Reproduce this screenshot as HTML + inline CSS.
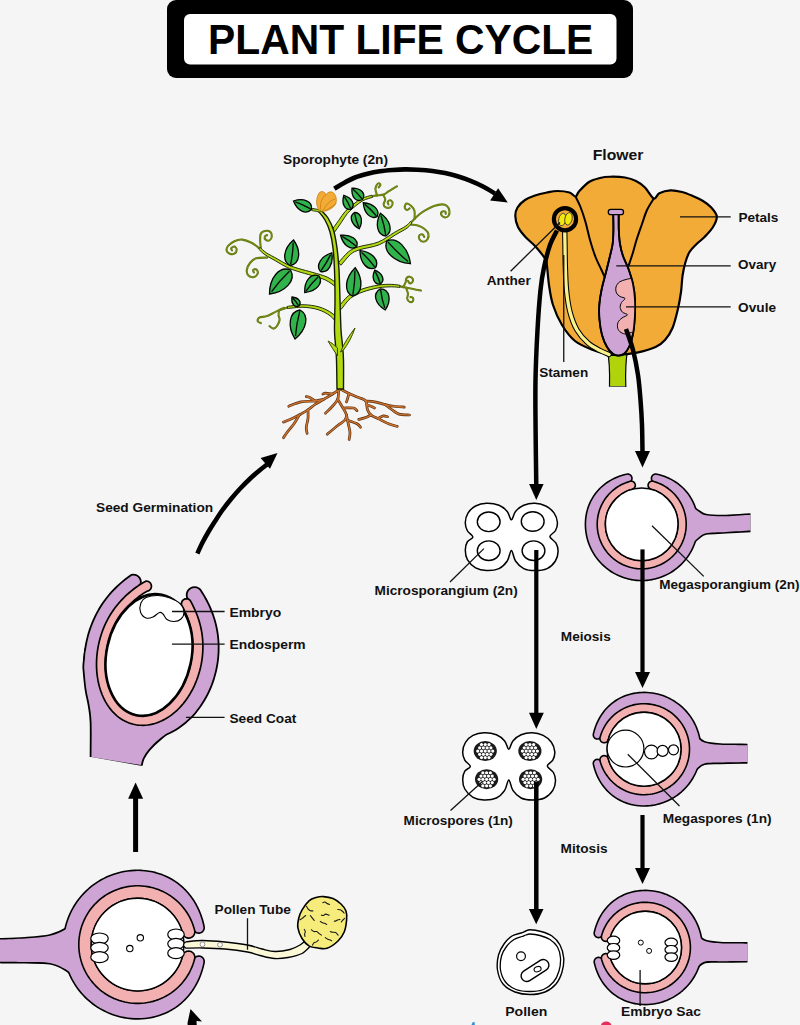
<!DOCTYPE html>
<html><head><meta charset="utf-8"><title>Plant Life Cycle</title>
<style>html,body{margin:0;padding:0;background:#f5f5f5;}svg{display:block;font-family:"Liberation Sans",sans-serif;}</style>
</head><body>
<svg width="800" height="1025" viewBox="0 0 800 1025">
<rect width="800" height="1025" fill="#f5f5f5"/>
<rect x="167" y="0" width="466" height="78" rx="9" fill="#000"/>
<rect x="184" y="14" width="432.5" height="50.5" rx="6" fill="#fff"/>
<text x="208.12" y="54" font-size="42.5" font-weight="bold" fill="#000" textLength="385.21" lengthAdjust="spacingAndGlyphs" font-family="Liberation Sans, sans-serif">PLANT LIFE CYCLE</text>
<path d="M339.5,389.6 C338.33,390.33 335.12,392.39 332.5,394 C329.88,395.61 326.67,397.5 323.75,399.25 C320.83,401 317.62,402.75 315,404.5 C312.38,406.25 310.62,408 308,409.75 C305.38,411.5 301.88,413.54 299.25,415 C296.62,416.46 294.88,417.33 292.25,418.5 C289.62,419.67 284.96,421.42 283.5,422" fill="none" stroke="#5a2e0e" stroke-width="2.7" stroke-linecap="round" stroke-linejoin="round"/><path d="M323.75,399.25 C322.29,399.54 318.79,400.56 315,401 C311.21,401.44 305.38,401.02 301,401.9 C296.62,402.77 290.79,405.52 288.75,406.25" fill="none" stroke="#5a2e0e" stroke-width="2.7" stroke-linecap="round" stroke-linejoin="round"/><path d="M315,401 C314.12,400.42 311.21,398.23 309.75,397.5 C308.29,396.77 306.83,396.75 306.25,396.6" fill="none" stroke="#5a2e0e" stroke-width="2.7" stroke-linecap="round" stroke-linejoin="round"/><path d="M299.25,415 C298.38,416.46 296.04,420.83 294,423.75 C291.96,426.67 288.75,430.17 287,432.5 C285.25,434.83 284.08,436.88 283.5,437.75" fill="none" stroke="#5a2e0e" stroke-width="2.7" stroke-linecap="round" stroke-linejoin="round"/><path d="M308,409.75 C308,411.21 308.29,415.58 308,418.5 C307.71,421.42 306.4,424.77 306.25,427.25 C306.1,429.73 306.96,432.38 307.1,433.4" fill="none" stroke="#5a2e0e" stroke-width="2.7" stroke-linecap="round" stroke-linejoin="round"/><path d="M332.5,394 C331.33,393.85 327.1,393.1 325.5,393.1 C323.9,393.1 323.33,393.85 322.9,394" fill="none" stroke="#5a2e0e" stroke-width="2.7" stroke-linecap="round" stroke-linejoin="round"/><path d="M338.5,390.5 C338.38,391.96 338.75,396.62 337.75,399.25 C336.75,401.88 334.54,403.92 332.5,406.25 C330.46,408.58 326.67,412.08 325.5,413.25" fill="none" stroke="#5a2e0e" stroke-width="2.7" stroke-linecap="round" stroke-linejoin="round"/><path d="M337.75,399.25 C338.62,400.71 341.54,405.38 343,408 C344.46,410.62 346.21,412.96 346.5,415 C346.79,417.04 346.21,418.5 344.75,420.25 C343.29,422 340.67,423.17 337.75,425.5 C334.83,427.83 329,432.79 327.25,434.25" fill="none" stroke="#5a2e0e" stroke-width="2.7" stroke-linecap="round" stroke-linejoin="round"/><path d="M346.5,415 C346.79,416.46 347.67,420.83 348.25,423.75 C348.83,426.67 349.86,429.88 350,432.5 C350.14,435.12 349.25,438.33 349.1,439.5" fill="none" stroke="#5a2e0e" stroke-width="2.7" stroke-linecap="round" stroke-linejoin="round"/><path d="M344,408 C345.58,408 351.33,407.57 353.5,408 C355.67,408.43 356.42,410.17 357,410.6" fill="none" stroke="#5a2e0e" stroke-width="2.7" stroke-linecap="round" stroke-linejoin="round"/><path d="M347,420 C348.67,420.62 354.75,422.54 357,423.75 C359.25,424.96 359.92,426.67 360.5,427.25" fill="none" stroke="#5a2e0e" stroke-width="2.7" stroke-linecap="round" stroke-linejoin="round"/><path d="M341.25,389.6 C342.71,390.33 347.08,392.68 350,394 C352.92,395.32 356.12,396.33 358.75,397.5 C361.38,398.67 364.29,398.96 365.75,401 C367.21,403.04 366.62,407.42 367.5,409.75 C368.38,412.08 369.25,413.54 371,415 C372.75,416.46 375.08,417.04 378,418.5 C380.92,419.96 385.29,422.43 388.5,423.75 C391.71,425.07 395.79,425.96 397.25,426.4" fill="none" stroke="#5a2e0e" stroke-width="2.7" stroke-linecap="round" stroke-linejoin="round"/><path d="M365.75,401 C367.21,401.15 371.29,401.32 374.5,401.9 C377.71,402.48 381.79,403.77 385,404.5 C388.21,405.23 390.54,405.82 393.75,406.25 C396.96,406.68 402.5,406.96 404.25,407.1" fill="none" stroke="#5a2e0e" stroke-width="2.7" stroke-linecap="round" stroke-linejoin="round"/><path d="M385,404.5 C386.17,405.38 389.67,408.15 392,409.75 C394.33,411.35 396.08,413.23 399,414.1 C401.92,414.98 407.75,414.85 409.5,415" fill="none" stroke="#5a2e0e" stroke-width="2.7" stroke-linecap="round" stroke-linejoin="round"/><path d="M371,415 C370.12,415.43 367.79,416.87 365.75,417.6 C363.71,418.33 359.92,419.1 358.75,419.4" fill="none" stroke="#5a2e0e" stroke-width="2.7" stroke-linecap="round" stroke-linejoin="round"/><path d="M378,418.5 C378.88,418.07 381.65,416.19 383.25,415.9 C384.85,415.61 386.88,416.61 387.6,416.75" fill="none" stroke="#5a2e0e" stroke-width="2.7" stroke-linecap="round" stroke-linejoin="round"/><path d="M349,393.5 C348.73,394.46 347.82,397.85 347.4,399.25 C346.98,400.65 346.65,401.46 346.5,401.9" fill="none" stroke="#5a2e0e" stroke-width="2.7" stroke-linecap="round" stroke-linejoin="round"/><path d="M367,405 C367.67,405.21 369.75,405.75 371,406.25 C372.25,406.75 373.92,407.71 374.5,408" fill="none" stroke="#5a2e0e" stroke-width="2.7" stroke-linecap="round" stroke-linejoin="round"/><path d="M339.5,389.6 C338.33,390.33 335.12,392.39 332.5,394 C329.88,395.61 326.67,397.5 323.75,399.25 C320.83,401 317.62,402.75 315,404.5 C312.38,406.25 310.62,408 308,409.75 C305.38,411.5 301.88,413.54 299.25,415 C296.62,416.46 294.88,417.33 292.25,418.5 C289.62,419.67 284.96,421.42 283.5,422" fill="none" stroke="#cc7430" stroke-width="1.4" stroke-linecap="round" stroke-linejoin="round"/><path d="M323.75,399.25 C322.29,399.54 318.79,400.56 315,401 C311.21,401.44 305.38,401.02 301,401.9 C296.62,402.77 290.79,405.52 288.75,406.25" fill="none" stroke="#cc7430" stroke-width="1.4" stroke-linecap="round" stroke-linejoin="round"/><path d="M315,401 C314.12,400.42 311.21,398.23 309.75,397.5 C308.29,396.77 306.83,396.75 306.25,396.6" fill="none" stroke="#cc7430" stroke-width="1.4" stroke-linecap="round" stroke-linejoin="round"/><path d="M299.25,415 C298.38,416.46 296.04,420.83 294,423.75 C291.96,426.67 288.75,430.17 287,432.5 C285.25,434.83 284.08,436.88 283.5,437.75" fill="none" stroke="#cc7430" stroke-width="1.4" stroke-linecap="round" stroke-linejoin="round"/><path d="M308,409.75 C308,411.21 308.29,415.58 308,418.5 C307.71,421.42 306.4,424.77 306.25,427.25 C306.1,429.73 306.96,432.38 307.1,433.4" fill="none" stroke="#cc7430" stroke-width="1.4" stroke-linecap="round" stroke-linejoin="round"/><path d="M332.5,394 C331.33,393.85 327.1,393.1 325.5,393.1 C323.9,393.1 323.33,393.85 322.9,394" fill="none" stroke="#cc7430" stroke-width="1.4" stroke-linecap="round" stroke-linejoin="round"/><path d="M338.5,390.5 C338.38,391.96 338.75,396.62 337.75,399.25 C336.75,401.88 334.54,403.92 332.5,406.25 C330.46,408.58 326.67,412.08 325.5,413.25" fill="none" stroke="#cc7430" stroke-width="1.4" stroke-linecap="round" stroke-linejoin="round"/><path d="M337.75,399.25 C338.62,400.71 341.54,405.38 343,408 C344.46,410.62 346.21,412.96 346.5,415 C346.79,417.04 346.21,418.5 344.75,420.25 C343.29,422 340.67,423.17 337.75,425.5 C334.83,427.83 329,432.79 327.25,434.25" fill="none" stroke="#cc7430" stroke-width="1.4" stroke-linecap="round" stroke-linejoin="round"/><path d="M346.5,415 C346.79,416.46 347.67,420.83 348.25,423.75 C348.83,426.67 349.86,429.88 350,432.5 C350.14,435.12 349.25,438.33 349.1,439.5" fill="none" stroke="#cc7430" stroke-width="1.4" stroke-linecap="round" stroke-linejoin="round"/><path d="M344,408 C345.58,408 351.33,407.57 353.5,408 C355.67,408.43 356.42,410.17 357,410.6" fill="none" stroke="#cc7430" stroke-width="1.4" stroke-linecap="round" stroke-linejoin="round"/><path d="M347,420 C348.67,420.62 354.75,422.54 357,423.75 C359.25,424.96 359.92,426.67 360.5,427.25" fill="none" stroke="#cc7430" stroke-width="1.4" stroke-linecap="round" stroke-linejoin="round"/><path d="M341.25,389.6 C342.71,390.33 347.08,392.68 350,394 C352.92,395.32 356.12,396.33 358.75,397.5 C361.38,398.67 364.29,398.96 365.75,401 C367.21,403.04 366.62,407.42 367.5,409.75 C368.38,412.08 369.25,413.54 371,415 C372.75,416.46 375.08,417.04 378,418.5 C380.92,419.96 385.29,422.43 388.5,423.75 C391.71,425.07 395.79,425.96 397.25,426.4" fill="none" stroke="#cc7430" stroke-width="1.4" stroke-linecap="round" stroke-linejoin="round"/><path d="M365.75,401 C367.21,401.15 371.29,401.32 374.5,401.9 C377.71,402.48 381.79,403.77 385,404.5 C388.21,405.23 390.54,405.82 393.75,406.25 C396.96,406.68 402.5,406.96 404.25,407.1" fill="none" stroke="#cc7430" stroke-width="1.4" stroke-linecap="round" stroke-linejoin="round"/><path d="M385,404.5 C386.17,405.38 389.67,408.15 392,409.75 C394.33,411.35 396.08,413.23 399,414.1 C401.92,414.98 407.75,414.85 409.5,415" fill="none" stroke="#cc7430" stroke-width="1.4" stroke-linecap="round" stroke-linejoin="round"/><path d="M371,415 C370.12,415.43 367.79,416.87 365.75,417.6 C363.71,418.33 359.92,419.1 358.75,419.4" fill="none" stroke="#cc7430" stroke-width="1.4" stroke-linecap="round" stroke-linejoin="round"/><path d="M378,418.5 C378.88,418.07 381.65,416.19 383.25,415.9 C384.85,415.61 386.88,416.61 387.6,416.75" fill="none" stroke="#cc7430" stroke-width="1.4" stroke-linecap="round" stroke-linejoin="round"/><path d="M349,393.5 C348.73,394.46 347.82,397.85 347.4,399.25 C346.98,400.65 346.65,401.46 346.5,401.9" fill="none" stroke="#cc7430" stroke-width="1.4" stroke-linecap="round" stroke-linejoin="round"/><path d="M367,405 C367.67,405.21 369.75,405.75 371,406.25 C372.25,406.75 373.92,407.71 374.5,408" fill="none" stroke="#cc7430" stroke-width="1.4" stroke-linecap="round" stroke-linejoin="round"/><path d="M259.3,248.2 C258,247.28 254.35,244.13 251.5,242.7 C248.65,241.27 245.05,239.85 242.2,239.6 C239.35,239.35 236.75,240.15 234.4,241.2 C232.05,242.25 229.4,244.35 228.1,245.9 C226.8,247.45 226.33,249.2 226.6,250.5 C226.87,251.8 228.4,253.17 229.7,253.7 C231,254.23 233.23,254.35 234.4,253.7 C235.57,253.05 236.7,250.98 236.7,249.8 C236.7,248.62 235.32,246.87 234.4,246.6 C233.48,246.33 231.6,247.55 231.2,248.2 C230.8,248.85 231.87,250.12 232,250.5" fill="none" stroke="#5f760c" stroke-width="2.1" stroke-linecap="round"/><path d="M259.3,248.2 C258,247.28 254.35,244.13 251.5,242.7 C248.65,241.27 245.05,239.85 242.2,239.6 C239.35,239.35 236.75,240.15 234.4,241.2 C232.05,242.25 229.4,244.35 228.1,245.9 C226.8,247.45 226.33,249.2 226.6,250.5 C226.87,251.8 228.4,253.17 229.7,253.7 C231,254.23 233.23,254.35 234.4,253.7 C235.57,253.05 236.7,250.98 236.7,249.8 C236.7,248.62 235.32,246.87 234.4,246.6 C233.48,246.33 231.6,247.55 231.2,248.2 C230.8,248.85 231.87,250.12 232,250.5" fill="none" stroke="#90a922" stroke-width="0.5" stroke-linecap="round"/><path d="M260.9,249 C260.77,247.43 260.1,242.2 260.1,239.6 C260.1,237 260.12,234.83 260.9,233.4 C261.68,231.97 263.23,231.27 264.8,231 C266.37,230.73 269.13,230.88 270.3,231.8 C271.47,232.72 271.93,235.07 271.8,236.5 C271.67,237.93 270.53,239.88 269.5,240.4 C268.47,240.92 266.38,240.25 265.6,239.6 C264.82,238.95 264.55,237.27 264.8,236.5 C265.05,235.73 266.72,235.25 267.1,235" fill="none" stroke="#5f760c" stroke-width="2.1" stroke-linecap="round"/><path d="M260.9,249 C260.77,247.43 260.1,242.2 260.1,239.6 C260.1,237 260.12,234.83 260.9,233.4 C261.68,231.97 263.23,231.27 264.8,231 C266.37,230.73 269.13,230.88 270.3,231.8 C271.47,232.72 271.93,235.07 271.8,236.5 C271.67,237.93 270.53,239.88 269.5,240.4 C268.47,240.92 266.38,240.25 265.6,239.6 C264.82,238.95 264.55,237.27 264.8,236.5 C265.05,235.73 266.72,235.25 267.1,235" fill="none" stroke="#90a922" stroke-width="0.5" stroke-linecap="round"/><path d="M267.1,257.6 C265.28,257.72 259.05,257.4 256.2,258.3 C253.35,259.2 251.57,261.05 250,263 C248.43,264.95 247.07,267.92 246.8,270 C246.53,272.08 247.22,274.32 248.4,275.5 C249.58,276.68 252.33,277.48 253.9,277.1 C255.47,276.72 257.42,274.5 257.8,273.2 C258.18,271.9 256.98,269.83 256.2,269.3 C255.42,268.77 253.48,269.48 253.1,270 C252.72,270.52 253.77,272 253.9,272.4" fill="none" stroke="#5f760c" stroke-width="2.1" stroke-linecap="round"/><path d="M267.1,257.6 C265.28,257.72 259.05,257.4 256.2,258.3 C253.35,259.2 251.57,261.05 250,263 C248.43,264.95 247.07,267.92 246.8,270 C246.53,272.08 247.22,274.32 248.4,275.5 C249.58,276.68 252.33,277.48 253.9,277.1 C255.47,276.72 257.42,274.5 257.8,273.2 C258.18,271.9 256.98,269.83 256.2,269.3 C255.42,268.77 253.48,269.48 253.1,270 C252.72,270.52 253.77,272 253.9,272.4" fill="none" stroke="#90a922" stroke-width="0.5" stroke-linecap="round"/><path d="M287.4,307.5 C285.58,308.15 279.88,309.97 276.5,311.4 C273.12,312.83 269.97,315.07 267.1,316.1 C264.23,317.13 260.85,316.7 259.3,317.6 C257.75,318.5 257.53,320.58 257.8,321.5 C258.07,322.42 260.38,322.83 260.9,323.1" fill="none" stroke="#5f760c" stroke-width="2.1" stroke-linecap="round"/><path d="M287.4,307.5 C285.58,308.15 279.88,309.97 276.5,311.4 C273.12,312.83 269.97,315.07 267.1,316.1 C264.23,317.13 260.85,316.7 259.3,317.6 C257.75,318.5 257.53,320.58 257.8,321.5 C258.07,322.42 260.38,322.83 260.9,323.1" fill="none" stroke="#90a922" stroke-width="0.5" stroke-linecap="round"/><path d="M284,307.8 C283.25,308.17 280.42,308.8 279.5,310 C278.58,311.2 278.48,313.33 278.5,315 C278.52,316.67 279.85,318.17 279.6,320 C279.35,321.83 278.03,324.57 277,326 C275.97,327.43 274.65,328.57 273.4,328.6 C272.15,328.63 270.15,326.6 269.5,326.2" fill="none" stroke="#5f760c" stroke-width="2.1" stroke-linecap="round"/><path d="M284,307.8 C283.25,308.17 280.42,308.8 279.5,310 C278.58,311.2 278.48,313.33 278.5,315 C278.52,316.67 279.85,318.17 279.6,320 C279.35,321.83 278.03,324.57 277,326 C275.97,327.43 274.65,328.57 273.4,328.6 C272.15,328.63 270.15,326.6 269.5,326.2" fill="none" stroke="#90a922" stroke-width="0.5" stroke-linecap="round"/><path d="M372.25,196.25 C373.06,196.11 375.21,195.68 377.1,195.4 C378.99,195.12 381.7,195.27 383.6,194.6 C385.5,193.93 386.6,192.62 388.5,191.4 C390.4,190.18 393.58,188.15 395,187.3 C396.42,186.45 396.67,186.47 397,186.3" fill="none" stroke="#5f760c" stroke-width="2.1" stroke-linecap="round"/><path d="M372.25,196.25 C373.06,196.11 375.21,195.68 377.1,195.4 C378.99,195.12 381.7,195.27 383.6,194.6 C385.5,193.93 386.6,192.62 388.5,191.4 C390.4,190.18 393.58,188.15 395,187.3 C396.42,186.45 396.67,186.47 397,186.3" fill="none" stroke="#90a922" stroke-width="0.5" stroke-linecap="round"/><path d="M377.1,195.4 C376.83,194.46 375.63,191.37 375.5,189.75 C375.37,188.13 375.76,186.78 376.3,185.7 C376.84,184.62 378.07,183.38 378.75,183.25 C379.43,183.12 380.4,184.22 380.4,184.9 C380.4,185.58 379.02,186.9 378.75,187.3" fill="none" stroke="#5f760c" stroke-width="2.1" stroke-linecap="round"/><path d="M377.1,195.4 C376.83,194.46 375.63,191.37 375.5,189.75 C375.37,188.13 375.76,186.78 376.3,185.7 C376.84,184.62 378.07,183.38 378.75,183.25 C379.43,183.12 380.4,184.22 380.4,184.9 C380.4,185.58 379.02,186.9 378.75,187.3" fill="none" stroke="#90a922" stroke-width="0.5" stroke-linecap="round"/><path d="M383.6,195.4 C383.88,196.08 385.25,198 385.25,199.5 C385.25,201 383.48,203.05 383.6,204.4 C383.73,205.75 384.77,207.2 386,207.6 C387.23,208 389.9,207.61 391,206.8 C392.1,205.99 392.75,203.83 392.6,202.75 C392.45,201.67 390.92,200.43 390.1,200.3 C389.28,200.18 387.97,201.32 387.7,202 C387.43,202.68 388.37,204 388.5,204.4" fill="none" stroke="#5f760c" stroke-width="2.1" stroke-linecap="round"/><path d="M383.6,195.4 C383.88,196.08 385.25,198 385.25,199.5 C385.25,201 383.48,203.05 383.6,204.4 C383.73,205.75 384.77,207.2 386,207.6 C387.23,208 389.9,207.61 391,206.8 C392.1,205.99 392.75,203.83 392.6,202.75 C392.45,201.67 390.92,200.43 390.1,200.3 C389.28,200.18 387.97,201.32 387.7,202 C387.43,202.68 388.37,204 388.5,204.4" fill="none" stroke="#90a922" stroke-width="0.5" stroke-linecap="round"/><path d="M411.25,222.25 C412.33,221.17 415.58,217.64 417.75,215.75 C419.92,213.86 421.54,212.53 424.25,210.9 C426.96,209.28 431.02,207.08 434,206 C436.98,204.92 439.93,204.4 442.1,204.4 C444.27,204.4 445.78,204.92 447,206 C448.22,207.08 449.13,209.28 449.4,210.9 C449.67,212.53 449.4,214.67 448.6,215.75 C447.8,216.83 445.82,217.54 444.6,217.4 C443.38,217.26 441.72,215.85 441.3,214.9 C440.88,213.95 441.42,212.23 442.1,211.7 C442.78,211.17 444.8,211.35 445.4,211.7 C446,212.05 445.65,213.45 445.7,213.8" fill="none" stroke="#5f760c" stroke-width="2.1" stroke-linecap="round"/><path d="M411.25,222.25 C412.33,221.17 415.58,217.64 417.75,215.75 C419.92,213.86 421.54,212.53 424.25,210.9 C426.96,209.28 431.02,207.08 434,206 C436.98,204.92 439.93,204.4 442.1,204.4 C444.27,204.4 445.78,204.92 447,206 C448.22,207.08 449.13,209.28 449.4,210.9 C449.67,212.53 449.4,214.67 448.6,215.75 C447.8,216.83 445.82,217.54 444.6,217.4 C443.38,217.26 441.72,215.85 441.3,214.9 C440.88,213.95 441.42,212.23 442.1,211.7 C442.78,211.17 444.8,211.35 445.4,211.7 C446,212.05 445.65,213.45 445.7,213.8" fill="none" stroke="#90a922" stroke-width="0.5" stroke-linecap="round"/><path d="M414.5,219 C414.5,217.65 415.04,213.07 414.5,210.9 C413.96,208.73 412.6,207.22 411.25,206 C409.9,204.78 407.48,203.33 406.4,203.6 C405.32,203.87 404.62,206.53 404.75,207.6 C404.88,208.67 406.39,209.87 407.2,210 C408.01,210.13 409.2,208.67 409.6,208.4" fill="none" stroke="#5f760c" stroke-width="2.1" stroke-linecap="round"/><path d="M414.5,219 C414.5,217.65 415.04,213.07 414.5,210.9 C413.96,208.73 412.6,207.22 411.25,206 C409.9,204.78 407.48,203.33 406.4,203.6 C405.32,203.87 404.62,206.53 404.75,207.6 C404.88,208.67 406.39,209.87 407.2,210 C408.01,210.13 409.2,208.67 409.6,208.4" fill="none" stroke="#90a922" stroke-width="0.5" stroke-linecap="round"/><path d="M411.25,224.7 C412.33,224.83 415.58,224.82 417.75,225.5 C419.92,226.18 422.49,227.4 424.25,228.75 C426.01,230.1 427.76,231.84 428.3,233.6 C428.84,235.36 428.32,237.94 427.5,239.3 C426.68,240.66 424.75,241.75 423.4,241.75 C422.05,241.75 420.07,240.38 419.4,239.3 C418.73,238.22 418.87,236.07 419.4,235.25 C419.93,234.43 421.79,234.12 422.6,234.4 C423.41,234.68 423.98,236.48 424.25,236.9" fill="none" stroke="#5f760c" stroke-width="2.1" stroke-linecap="round"/><path d="M411.25,224.7 C412.33,224.83 415.58,224.82 417.75,225.5 C419.92,226.18 422.49,227.4 424.25,228.75 C426.01,230.1 427.76,231.84 428.3,233.6 C428.84,235.36 428.32,237.94 427.5,239.3 C426.68,240.66 424.75,241.75 423.4,241.75 C422.05,241.75 420.07,240.38 419.4,239.3 C418.73,238.22 418.87,236.07 419.4,235.25 C419.93,234.43 421.79,234.12 422.6,234.4 C423.41,234.68 423.98,236.48 424.25,236.9" fill="none" stroke="#90a922" stroke-width="0.5" stroke-linecap="round"/><path d="M399.9,286.4 C401.25,286.67 405.3,287.45 408,288 C410.7,288.55 413.93,289.28 416.1,289.7 C418.27,290.12 420.18,290.37 421,290.5" fill="none" stroke="#5f760c" stroke-width="2.1" stroke-linecap="round"/><path d="M399.9,286.4 C401.25,286.67 405.3,287.45 408,288 C410.7,288.55 413.93,289.28 416.1,289.7 C418.27,290.12 420.18,290.37 421,290.5" fill="none" stroke="#90a922" stroke-width="0.5" stroke-linecap="round"/><path d="M403.1,287.25 C403.52,286.44 405.05,283.89 405.6,282.4 C406.15,280.91 405.73,279.25 406.4,278.3 C407.07,277.35 408.52,276.57 409.6,276.7 C410.68,276.83 412.48,278.15 412.9,279.1 C413.32,280.05 412.65,281.72 412.1,282.4 C411.55,283.08 410.28,283.47 409.6,283.2 C408.92,282.93 408.27,281.16 408,280.75" fill="none" stroke="#5f760c" stroke-width="2.1" stroke-linecap="round"/><path d="M403.1,287.25 C403.52,286.44 405.05,283.89 405.6,282.4 C406.15,280.91 405.73,279.25 406.4,278.3 C407.07,277.35 408.52,276.57 409.6,276.7 C410.68,276.83 412.48,278.15 412.9,279.1 C413.32,280.05 412.65,281.72 412.1,282.4 C411.55,283.08 410.28,283.47 409.6,283.2 C408.92,282.93 408.27,281.16 408,280.75" fill="none" stroke="#90a922" stroke-width="0.5" stroke-linecap="round"/><path d="M406.4,288.9 C406.67,289.71 407.87,292.13 408,293.75 C408.13,295.37 406.93,297.24 407.2,298.6 C407.47,299.96 408.65,301.48 409.6,301.9 C410.55,302.32 412.35,301.78 412.9,301.1 C413.45,300.42 413.32,298.48 412.9,297.8 C412.48,297.12 410.82,297.13 410.4,297" fill="none" stroke="#5f760c" stroke-width="2.1" stroke-linecap="round"/><path d="M406.4,288.9 C406.67,289.71 407.87,292.13 408,293.75 C408.13,295.37 406.93,297.24 407.2,298.6 C407.47,299.96 408.65,301.48 409.6,301.9 C410.55,302.32 412.35,301.78 412.9,301.1 C413.45,300.42 413.32,298.48 412.9,297.8 C412.48,297.12 410.82,297.13 410.4,297" fill="none" stroke="#90a922" stroke-width="0.5" stroke-linecap="round"/><path d="M337.98,283.99 C336.17,282.84 331.31,278.98 327.12,277.06 C322.93,275.14 317.6,273.89 312.87,272.47 C308.14,271.06 302.9,269.84 298.75,268.57 C294.61,267.3 291.59,266.46 287.99,264.83 C284.39,263.2 280.76,260.79 277.14,258.77 C273.52,256.75 269.13,254.61 266.27,252.71 C263.42,250.81 261.07,248.26 260.02,247.37 L258.58,249.03 C259.63,249.97 262.04,252.69 264.93,254.69 C267.81,256.69 272.21,258.92 275.86,261.03 C279.5,263.14 283.15,265.64 286.81,267.37 C290.48,269.1 293.66,270.07 297.85,271.43 C302.03,272.79 307.29,274.08 311.93,275.53 C316.57,276.98 321.67,278.23 325.68,280.14 C329.69,282.05 334.3,285.86 336.02,287.01Z" fill="#b2da12" stroke="#26300a" stroke-width="1" stroke-linejoin="round"/><path d="M340.32,321.77 C338.94,320.34 335.6,315.66 332.05,313.18 C328.5,310.7 323.86,308.32 319.02,306.91 C314.18,305.5 308.32,304.81 303.03,304.73 C297.75,304.64 289.92,306.13 287.29,306.41 L287.51,308.59 C290.08,308.37 297.85,307.09 302.97,307.27 C308.08,307.46 313.65,308.26 318.18,309.69 C322.71,311.11 326.9,313.4 330.15,315.82 C333.4,318.24 336.43,322.82 337.68,324.23Z" fill="#b2da12" stroke="#26300a" stroke-width="1" stroke-linejoin="round"/><path d="M333.96,233.05 C335.2,231.28 339.12,225.71 341.36,222.46 C343.59,219.2 345.14,216.15 347.39,213.5 C349.64,210.85 352.25,208.73 354.86,206.58 C357.47,204.43 360.1,202.15 363.06,200.61 C366.02,199.06 371.01,197.85 372.6,197.29 L371.9,195.21 C370.24,195.74 365.07,196.86 361.94,198.39 C358.81,199.93 355.94,202.24 353.14,204.42 C350.33,206.61 347.52,208.81 345.11,211.5 C342.69,214.19 340.99,217.3 338.64,220.54 C336.3,223.79 332.3,229.22 331.04,230.95Z" fill="#b2da12" stroke="#26300a" stroke-width="1" stroke-linejoin="round"/><path d="M341.09,265.2 C342.67,263.4 347.45,256.99 350.56,254.41 C353.67,251.83 354.95,251.35 359.74,249.74 C364.53,248.13 373.31,247.24 379.3,244.74 C385.29,242.24 391.04,237.52 395.68,234.75 C400.31,231.97 404.37,230.05 407.1,228.1 C409.82,226.14 411.21,223.87 412.03,223.03 L410.47,221.47 C409.68,222.24 408.39,224.27 405.7,226.1 C403.01,227.93 398.91,229.79 394.32,232.45 C389.74,235.11 384.13,239.67 378.2,242.06 C372.27,244.44 363.72,245.14 358.76,246.76 C353.8,248.38 351.83,249.12 348.44,251.79 C345.05,254.46 340.08,260.97 338.41,262.8Z" fill="#b2da12" stroke="#26300a" stroke-width="1" stroke-linejoin="round"/><path d="M341.36,309.18 C342.89,307.37 346.91,301.18 350.52,298.31 C354.13,295.44 358.27,293.69 363.02,291.93 C367.76,290.17 374.19,288.61 378.98,287.76 C383.77,286.91 388.28,286.88 391.75,286.84 C395.22,286.8 398.45,287.39 399.79,287.49 L400.01,285.31 C398.63,285.15 395.33,284.4 391.75,284.36 C388.17,284.32 383.48,284.25 378.52,285.04 C373.56,285.82 366.99,287.3 361.98,289.07 C356.98,290.85 352.37,292.73 348.48,295.69 C344.59,298.65 340.28,304.97 338.64,306.82Z" fill="#b2da12" stroke="#26300a" stroke-width="1" stroke-linejoin="round"/><path d="M311.81,210.58 C312.47,210.7 314.54,211.03 315.78,211.28 C317.03,211.53 318.68,211.94 319.25,212.07 L319.75,209.93 C319.16,209.79 317.47,209.37 316.22,209.12 C314.96,208.87 312.86,208.53 312.19,208.42Z" fill="#b2da12" stroke="#26300a" stroke-width="1" stroke-linejoin="round"/><path d="M337,389 C336.92,384.17 336.75,367.33 336.5,360 C336.25,352.67 335.83,350 335.5,345 C335.17,340 334.58,337.5 334.5,330 C334.42,322.5 335,310 335,300 C335,290 334.83,278.67 334.5,270 C334.17,261.33 333.75,254.33 333,248 C332.25,241.67 331.33,236.67 330,232 C328.67,227.33 326.83,223.33 325,220 C323.17,216.67 320,213.33 319,212 L321,210 C322.17,211.33 325.92,214.67 328,218 C330.08,221.33 332,225 333.5,230 C335,235 336.08,241.33 337,248 C337.92,254.67 338.5,261.33 339,270 C339.5,278.67 339.67,290 340,300 C340.33,310 340.58,322.5 341,330 C341.42,337.5 342.08,340 342.5,345 C342.92,350 343.33,352.67 343.5,360 C343.67,367.33 343.5,384.17 343.5,389Z" fill="#b2da12" stroke="#151a04" stroke-width="1.4"/><path d="M340.5,352 C344,343 349,336 355,328 C352,337 348,344 343.5,350Z" fill="#b2da12" stroke="#3a4a08" stroke-width="1"/><path d="M337.5,356 C334,351 331,346 328,341 C332,343 335,345.5 337.5,348Z" fill="#b2da12" stroke="#3a4a08" stroke-width="1"/><path d="M311.5,209.25 C312.55,201.26 303.4,197.47 293.5,201 C297.28,210.8 306.13,215.26 311.5,209.25 Z" fill="#30b34b" stroke="#000" stroke-width="1.3"/><path d="M310.6,208.84 Q302.87,204.33 295.3,201.82" fill="none" stroke="#0a0a0a" stroke-width="1.35"/><path d="M290.5,265.5 C300.25,263.54 301.3,250.74 293.5,240 C283.42,248.64 281.47,261.34 290.5,265.5 Z" fill="#30b34b" stroke="#000" stroke-width="1.3"/><path d="M290.65,264.23 Q293.07,252.88 293.2,242.55" fill="none" stroke="#0a0a0a" stroke-width="1.35"/><path d="M290.5,270 C279.55,265.5 269.45,277.86 269.5,294 C285.51,291.9 296.41,280.26 290.5,270 Z" fill="#30b34b" stroke="#000" stroke-width="1.3"/><path d="M289.45,271.2 Q279.04,281.16 271.6,291.6" fill="none" stroke="#0a0a0a" stroke-width="1.35"/><path d="M319,276 C310.93,272.49 304.11,281 304.75,292.5 C316.22,291.46 323.65,283.47 319,276 Z" fill="#30b34b" stroke="#000" stroke-width="1.3"/><path d="M318.29,276.82 Q311.15,283.62 306.18,290.85" fill="none" stroke="#0a0a0a" stroke-width="1.35"/><path d="M320.5,271.5 C328.45,273.21 333.76,263.65 331.75,252.75 C321.19,256.1 315.25,265.29 320.5,271.5 Z" fill="#30b34b" stroke="#000" stroke-width="1.3"/><path d="M321.06,270.56 Q326.88,262.58 330.62,254.62" fill="none" stroke="#0a0a0a" stroke-width="1.35"/><path d="M362.5,199.5 C366.39,193.39 360.89,187.92 352,188.1 C351.09,196.95 356.09,202.87 362.5,199.5 Z" fill="#30b34b" stroke="#000" stroke-width="1.3"/><path d="M361.98,198.93 Q357.84,193.26 353.05,189.24" fill="none" stroke="#0a0a0a" stroke-width="1.35"/><path d="M351.1,209.25 C355.8,204.65 351.88,197.87 343.8,195.4 C341.27,203.46 344.65,210.53 351.1,209.25 Z" fill="#30b34b" stroke="#000" stroke-width="1.3"/><path d="M350.74,208.56 Q348.09,201.99 344.53,196.78" fill="none" stroke="#0a0a0a" stroke-width="1.35"/><path d="M354.4,212.5 C348.61,216.35 351.34,224.39 359.25,228.75 C363.48,220.76 361.35,212.55 354.4,212.5 Z" fill="#30b34b" stroke="#000" stroke-width="1.3"/><path d="M354.64,213.31 Q356.1,220.84 358.76,227.12" fill="none" stroke="#0a0a0a" stroke-width="1.35"/><path d="M377.1,216.6 C380.4,210 373.27,203.31 363.3,202.75 C363.82,212.72 370.49,219.88 377.1,216.6 Z" fill="#30b34b" stroke="#000" stroke-width="1.3"/><path d="M376.41,215.91 Q370.77,209.11 364.68,204.13" fill="none" stroke="#0a0a0a" stroke-width="1.35"/><path d="M386,236 C393.48,231.26 390.3,220.01 380.4,213.3 C374.76,223.84 377.17,235.29 386,236 Z" fill="#30b34b" stroke="#000" stroke-width="1.3"/><path d="M385.72,234.87 Q384.13,224.42 380.96,215.57" fill="none" stroke="#0a0a0a" stroke-width="1.35"/><path d="M356.8,246.6 C358.87,239.51 350.58,234.1 340.6,235.25 C342.93,245.02 350.84,250.97 356.8,246.6 Z" fill="#30b34b" stroke="#000" stroke-width="1.3"/><path d="M355.99,246.03 Q349.16,240.27 342.22,236.38" fill="none" stroke="#0a0a0a" stroke-width="1.35"/><path d="M386.9,241 C382.43,251.28 394.52,262.27 410.4,263.7 C408.42,247.88 397.01,236.17 386.9,241 Z" fill="#30b34b" stroke="#000" stroke-width="1.3"/><path d="M388.07,242.13 Q397.82,253.21 408.05,261.43" fill="none" stroke="#0a0a0a" stroke-width="1.35"/><path d="M375.5,267.75 C379.86,260.05 371.81,251.8 360,250.7 C359.97,262.56 367.42,271.35 375.5,267.75 Z" fill="#30b34b" stroke="#000" stroke-width="1.3"/><path d="M374.73,266.9 Q368.46,258.58 361.55,252.41" fill="none" stroke="#0a0a0a" stroke-width="1.35"/><path d="M380.4,284 C385.54,279.94 382.41,273.15 374.7,270.2 C371.32,277.73 373.89,284.75 380.4,284 Z" fill="#30b34b" stroke="#000" stroke-width="1.3"/><path d="M380.11,283.31 Q378.22,276.83 375.27,271.58" fill="none" stroke="#0a0a0a" stroke-width="1.35"/><path d="M352.75,296.2 C362.81,293.63 363.57,279.36 355.2,267.75 C344.97,277.76 343.28,291.95 352.75,296.2 Z" fill="#30b34b" stroke="#000" stroke-width="1.3"/><path d="M352.87,294.78 Q355.09,282.07 354.95,270.6" fill="none" stroke="#0a0a0a" stroke-width="1.35"/><path d="M380.4,288.9 C372.11,293.47 374.96,303.92 385.25,310 C391.85,300.04 389.85,289.39 380.4,288.9 Z" fill="#30b34b" stroke="#000" stroke-width="1.3"/><path d="M380.64,289.95 Q381.81,299.68 384.76,307.89" fill="none" stroke="#0a0a0a" stroke-width="1.35"/><path d="M299,306 C302.03,301.91 298.34,297.55 292,297 C290.98,303.29 294.29,307.93 299,306 Z" fill="#30b34b" stroke="#000" stroke-width="1.3"/><path d="M298.65,305.55 Q295.94,301.16 292.7,297.9" fill="none" stroke="#0a0a0a" stroke-width="1.35"/><path d="M300,310 C289.05,311.7 287.05,326.28 295,339 C306.75,329.68 309.75,315.26 300,310 Z" fill="#30b34b" stroke="#000" stroke-width="1.3"/><path d="M299.75,311.45 Q296.32,324.3 295.5,336.1" fill="none" stroke="#0a0a0a" stroke-width="1.35"/><g stroke="#c77800" stroke-width="0.7" fill="#f3ab38" stroke-linejoin="round"><path d="M319.5,210.5 C315.5,206 316,198 319,193 C321.5,190.5 325,191.5 326,195 C328,191 332.5,191 334.5,194 C337.5,198.5 337,204.5 332,208 C328,211 322.5,212 319.5,210.5Z"/><path d="M320.5,209.5 C320,203 322,197 326,195" fill="none"/><path d="M323,210.5 C326,205 330,200 335.5,199" fill="none"/><path d="M324.5,211 C329,208.5 333.5,206 336.5,203" fill="none"/></g><path d="M318.3,212.5 L319.5,209.5 L321.5,210.5Z" fill="#8fb020"/>
<path d="M656.78,474.99 L659.16,475.59 L661.52,476.28 L663.87,477.08 L666.19,477.98 L668.48,478.99 L670.73,480.11 L672.93,481.34 L675.09,482.67 L677.18,484.12 L679.21,485.68 L681.16,487.35 L683.03,489.12 L684.81,491 L686.49,492.98 L688.06,495.05 L689.52,497.21 L690.86,499.45 L692.08,501.76 L693.18,504.14 L694.14,506.58 L694.97,509.07 L695.67,511.61 L696.24,514.18 L696.68,516.77 L696.98,519.38 L697.15,522.01 L697.2,524.64 L697.12,527.27 L696.92,529.89 L696.59,532.5 L696.14,535.1 L695.57,537.66 L694.87,540.2 L694.06,542.7 L693.13,545.17 L692.08,547.58 L690.92,549.94 L689.65,552.25 L688.27,554.49 L686.79,556.66 L685.21,558.76 L683.52,560.78 L681.75,562.73 L679.88,564.58 L677.93,566.34 L675.89,568.01 L673.78,569.59 L671.6,571.06 L669.35,572.42 L667.04,573.68 L664.67,574.82 L662.25,575.85 L659.78,576.77 L657.28,577.57 L654.73,578.25 L652.16,578.8 L649.57,579.24 L646.96,579.55 L644.33,579.74 L641.7,579.8 L639.07,579.74 L636.44,579.55 L633.83,579.24 L631.24,578.8 L628.67,578.25 L626.12,577.57 L623.62,576.77 L621.15,575.85 L618.73,574.82 L616.36,573.68 L614.05,572.42 L611.8,571.06 L609.62,569.59 L607.51,568.01 L605.47,566.34 L603.52,564.58 L601.65,562.73 L599.88,560.78 L598.19,558.76 L596.61,556.66 L595.13,554.49 L593.75,552.25 L592.48,549.94 L591.32,547.58 L590.27,545.17 L589.34,542.7 L588.53,540.2 L587.83,537.66 L587.26,535.1 L586.81,532.5 L586.48,529.89 L586.28,527.27 L586.2,524.64 L586.25,522.01 L586.42,519.38 L586.72,516.77 L587.16,514.18 L587.73,511.61 L588.43,509.07 L589.26,506.58 L590.22,504.14 L591.32,501.76 L592.54,499.45 L593.88,497.21 L595.34,495.05 L596.91,492.98 L598.59,491 L600.37,489.12 L602.24,487.35 L604.19,485.68 L606.22,484.12 L608.31,482.67 L610.47,481.34 L612.67,480.11 L614.92,478.99 L617.21,477.98 L619.53,477.08 L621.88,476.28 L624.24,475.59 L626.62,474.99 L627.53,474.84 L628.45,474.92 L629.32,475.25 L630.07,475.78 L630.65,476.49 L631.03,477.33 L631.19,478.24 L631.1,479.16 L630.78,480.02 L630.24,480.78 L629.53,481.36 L628.69,481.74 L626.69,482.41 L624.72,483.17 L622.79,484.02 L620.9,484.96 L619.06,485.99 L617.27,487.11 L615.53,488.31 L613.86,489.59 L612.24,490.95 L610.69,492.38 L609.22,493.88 L607.81,495.46 L606.48,497.1 L605.23,498.8 L604.07,500.55 L602.98,502.36 L601.99,504.22 L601.08,506.13 L600.26,508.08 L599.54,510.06 L598.91,512.07 L598.38,514.11 L597.95,516.18 L597.61,518.26 L597.38,520.36 L597.24,522.46 L597.2,524.57 L597.26,526.68 L597.43,528.78 L597.69,530.88 L598.05,532.96 L598.51,535.02 L599.07,537.05 L599.72,539.06 L600.46,541.03 L601.3,542.97 L602.23,544.86 L603.25,546.71 L604.36,548.5 L605.55,550.25 L606.82,551.93 L608.17,553.55 L609.59,555.11 L611.09,556.6 L612.65,558.01 L614.28,559.35 L615.97,560.61 L617.72,561.79 L619.53,562.88 L621.38,563.89 L623.28,564.81 L625.22,565.64 L627.2,566.37 L629.21,567.01 L631.25,567.56 L633.31,568 L635.39,568.35 L637.49,568.6 L639.59,568.75 L641.7,568.8 L643.81,568.75 L645.91,568.6 L648.01,568.35 L650.09,568 L652.15,567.56 L654.19,567.01 L656.2,566.37 L658.18,565.64 L660.12,564.81 L662.02,563.89 L663.87,562.88 L665.68,561.79 L667.43,560.61 L669.12,559.35 L670.75,558.01 L672.31,556.6 L673.81,555.11 L675.23,553.55 L676.58,551.93 L677.85,550.25 L679.04,548.5 L680.15,546.71 L681.17,544.86 L682.1,542.97 L682.94,541.03 L683.68,539.06 L684.33,537.05 L684.89,535.02 L685.35,532.96 L685.71,530.88 L685.97,528.78 L686.14,526.68 L686.2,524.57 L686.16,522.46 L686.02,520.36 L685.79,518.26 L685.45,516.18 L685.02,514.11 L684.49,512.07 L683.86,510.06 L683.14,508.08 L682.32,506.13 L681.41,504.22 L680.42,502.36 L679.33,500.55 L678.17,498.8 L676.92,497.1 L675.59,495.46 L674.18,493.88 L672.71,492.38 L671.16,490.95 L669.54,489.59 L667.87,488.31 L666.13,487.11 L664.34,485.99 L662.5,484.96 L660.61,484.02 L658.68,483.17 L656.71,482.41 L654.71,481.74 L653.87,481.36 L653.16,480.78 L652.62,480.02 L652.3,479.16 L652.21,478.24 L652.37,477.33 L652.75,476.49 L653.33,475.78 L654.08,475.25 L654.95,474.92 L655.87,474.84Z" fill="#000" stroke="#000" stroke-width="3.2" stroke-linejoin="round"/><path d="M680,500 C681.67,500.83 687.17,503.25 690,505 C692.83,506.75 694.33,508.78 697,510.5 C699.67,512.22 701.17,514.33 706,515.3 C710.83,516.27 718.58,516.38 726,516.3 C733.42,516.22 746.42,515.05 750.5,514.8 L750.5,530.6 C746.42,530.83 733.42,531.57 726,532 C718.58,532.43 710.67,532.2 706,533.2 C701.33,534.2 700.67,536.03 698,538 C695.33,539.97 692.67,543 690,545 C687.33,547 683.33,549.17 682,550Z" fill="#000" stroke="#000" stroke-width="3.2" stroke-linejoin="round"/><path d="M656.78,474.99 L659.16,475.59 L661.52,476.28 L663.87,477.08 L666.19,477.98 L668.48,478.99 L670.73,480.11 L672.93,481.34 L675.09,482.67 L677.18,484.12 L679.21,485.68 L681.16,487.35 L683.03,489.12 L684.81,491 L686.49,492.98 L688.06,495.05 L689.52,497.21 L690.86,499.45 L692.08,501.76 L693.18,504.14 L694.14,506.58 L694.97,509.07 L695.67,511.61 L696.24,514.18 L696.68,516.77 L696.98,519.38 L697.15,522.01 L697.2,524.64 L697.12,527.27 L696.92,529.89 L696.59,532.5 L696.14,535.1 L695.57,537.66 L694.87,540.2 L694.06,542.7 L693.13,545.17 L692.08,547.58 L690.92,549.94 L689.65,552.25 L688.27,554.49 L686.79,556.66 L685.21,558.76 L683.52,560.78 L681.75,562.73 L679.88,564.58 L677.93,566.34 L675.89,568.01 L673.78,569.59 L671.6,571.06 L669.35,572.42 L667.04,573.68 L664.67,574.82 L662.25,575.85 L659.78,576.77 L657.28,577.57 L654.73,578.25 L652.16,578.8 L649.57,579.24 L646.96,579.55 L644.33,579.74 L641.7,579.8 L639.07,579.74 L636.44,579.55 L633.83,579.24 L631.24,578.8 L628.67,578.25 L626.12,577.57 L623.62,576.77 L621.15,575.85 L618.73,574.82 L616.36,573.68 L614.05,572.42 L611.8,571.06 L609.62,569.59 L607.51,568.01 L605.47,566.34 L603.52,564.58 L601.65,562.73 L599.88,560.78 L598.19,558.76 L596.61,556.66 L595.13,554.49 L593.75,552.25 L592.48,549.94 L591.32,547.58 L590.27,545.17 L589.34,542.7 L588.53,540.2 L587.83,537.66 L587.26,535.1 L586.81,532.5 L586.48,529.89 L586.28,527.27 L586.2,524.64 L586.25,522.01 L586.42,519.38 L586.72,516.77 L587.16,514.18 L587.73,511.61 L588.43,509.07 L589.26,506.58 L590.22,504.14 L591.32,501.76 L592.54,499.45 L593.88,497.21 L595.34,495.05 L596.91,492.98 L598.59,491 L600.37,489.12 L602.24,487.35 L604.19,485.68 L606.22,484.12 L608.31,482.67 L610.47,481.34 L612.67,480.11 L614.92,478.99 L617.21,477.98 L619.53,477.08 L621.88,476.28 L624.24,475.59 L626.62,474.99 L627.53,474.84 L628.45,474.92 L629.32,475.25 L630.07,475.78 L630.65,476.49 L631.03,477.33 L631.19,478.24 L631.1,479.16 L630.78,480.02 L630.24,480.78 L629.53,481.36 L628.69,481.74 L626.69,482.41 L624.72,483.17 L622.79,484.02 L620.9,484.96 L619.06,485.99 L617.27,487.11 L615.53,488.31 L613.86,489.59 L612.24,490.95 L610.69,492.38 L609.22,493.88 L607.81,495.46 L606.48,497.1 L605.23,498.8 L604.07,500.55 L602.98,502.36 L601.99,504.22 L601.08,506.13 L600.26,508.08 L599.54,510.06 L598.91,512.07 L598.38,514.11 L597.95,516.18 L597.61,518.26 L597.38,520.36 L597.24,522.46 L597.2,524.57 L597.26,526.68 L597.43,528.78 L597.69,530.88 L598.05,532.96 L598.51,535.02 L599.07,537.05 L599.72,539.06 L600.46,541.03 L601.3,542.97 L602.23,544.86 L603.25,546.71 L604.36,548.5 L605.55,550.25 L606.82,551.93 L608.17,553.55 L609.59,555.11 L611.09,556.6 L612.65,558.01 L614.28,559.35 L615.97,560.61 L617.72,561.79 L619.53,562.88 L621.38,563.89 L623.28,564.81 L625.22,565.64 L627.2,566.37 L629.21,567.01 L631.25,567.56 L633.31,568 L635.39,568.35 L637.49,568.6 L639.59,568.75 L641.7,568.8 L643.81,568.75 L645.91,568.6 L648.01,568.35 L650.09,568 L652.15,567.56 L654.19,567.01 L656.2,566.37 L658.18,565.64 L660.12,564.81 L662.02,563.89 L663.87,562.88 L665.68,561.79 L667.43,560.61 L669.12,559.35 L670.75,558.01 L672.31,556.6 L673.81,555.11 L675.23,553.55 L676.58,551.93 L677.85,550.25 L679.04,548.5 L680.15,546.71 L681.17,544.86 L682.1,542.97 L682.94,541.03 L683.68,539.06 L684.33,537.05 L684.89,535.02 L685.35,532.96 L685.71,530.88 L685.97,528.78 L686.14,526.68 L686.2,524.57 L686.16,522.46 L686.02,520.36 L685.79,518.26 L685.45,516.18 L685.02,514.11 L684.49,512.07 L683.86,510.06 L683.14,508.08 L682.32,506.13 L681.41,504.22 L680.42,502.36 L679.33,500.55 L678.17,498.8 L676.92,497.1 L675.59,495.46 L674.18,493.88 L672.71,492.38 L671.16,490.95 L669.54,489.59 L667.87,488.31 L666.13,487.11 L664.34,485.99 L662.5,484.96 L660.61,484.02 L658.68,483.17 L656.71,482.41 L654.71,481.74 L653.87,481.36 L653.16,480.78 L652.62,480.02 L652.3,479.16 L652.21,478.24 L652.37,477.33 L652.75,476.49 L653.33,475.78 L654.08,475.25 L654.95,474.92 L655.87,474.84Z" fill="#cda4d3"/><path d="M680,500 C681.67,500.83 687.17,503.25 690,505 C692.83,506.75 694.33,508.78 697,510.5 C699.67,512.22 701.17,514.33 706,515.3 C710.83,516.27 718.58,516.38 726,516.3 C733.42,516.22 746.42,515.05 750.5,514.8 L750.5,530.6 C746.42,530.83 733.42,531.57 726,532 C718.58,532.43 710.67,532.2 706,533.2 C701.33,534.2 700.67,536.03 698,538 C695.33,539.97 692.67,543 690,545 C687.33,547 683.33,549.17 682,550Z" fill="#cda4d3"/><rect x="750.5" y="511.8" width="6" height="21.8" fill="#f5f5f5"/><path d="M653.22,481.32 L655.27,481.92 L657.28,482.62 L659.27,483.41 L661.21,484.3 L663.1,485.29 L664.95,486.36 L666.74,487.52 L668.48,488.76 L670.16,490.09 L671.76,491.49 L673.3,492.97 L674.77,494.52 L676.16,496.14 L677.47,497.83 L678.7,499.58 L679.84,501.38 L680.9,503.24 L681.87,505.14 L682.74,507.09 L683.52,509.08 L684.2,511.1 L684.78,513.16 L685.27,515.24 L685.65,517.34 L685.94,519.46 L686.12,521.58 L686.2,523.72 L686.17,525.85 L686.05,527.98 L685.82,530.11 L685.49,532.22 L685.06,534.31 L684.53,536.38 L683.9,538.42 L683.17,540.43 L682.35,542.4 L681.44,544.33 L680.43,546.21 L679.33,548.05 L678.15,549.82 L676.89,551.54 L675.54,553.2 L674.11,554.79 L672.61,556.31 L671.04,557.76 L669.4,559.13 L667.7,560.42 L665.94,561.62 L664.12,562.74 L662.25,563.77 L660.33,564.71 L658.37,565.56 L656.37,566.31 L654.34,566.97 L652.28,567.52 L650.19,567.98 L648.09,568.34 L645.97,568.6 L643.84,568.75 L641.7,568.8 L639.56,568.75 L637.43,568.6 L635.31,568.34 L633.21,567.98 L631.12,567.52 L629.06,566.97 L627.03,566.31 L625.03,565.56 L623.07,564.71 L621.15,563.77 L619.28,562.74 L617.46,561.62 L615.7,560.42 L614,559.13 L612.36,557.76 L610.79,556.31 L609.29,554.79 L607.86,553.2 L606.51,551.54 L605.25,549.82 L604.07,548.05 L602.97,546.21 L601.96,544.33 L601.05,542.4 L600.23,540.43 L599.5,538.42 L598.87,536.38 L598.34,534.31 L597.91,532.22 L597.58,530.11 L597.35,527.98 L597.23,525.85 L597.2,523.72 L597.28,521.58 L597.46,519.46 L597.75,517.34 L598.13,515.24 L598.62,513.16 L599.2,511.1 L599.88,509.08 L600.66,507.09 L601.53,505.14 L602.5,503.24 L603.56,501.38 L604.7,499.58 L605.93,497.83 L607.24,496.14 L608.63,494.52 L610.1,492.97 L611.64,491.49 L613.24,490.09 L614.92,488.76 L616.66,487.52 L618.45,486.36 L620.3,485.29 L622.19,484.3 L624.13,483.41 L626.12,482.62 L628.13,481.92 L630.18,481.32 L631.24,481.18 L632.3,481.32 L633.29,481.73 L634.14,482.38 L634.79,483.23 L635.2,484.22 L635.34,485.28 L635.2,486.34 L634.79,487.33 L634.14,488.18 L633.29,488.83 L632.3,489.24 L630.63,489.73 L628.99,490.3 L627.37,490.95 L625.79,491.67 L624.24,492.47 L622.73,493.35 L621.27,494.29 L619.85,495.31 L618.49,496.39 L617.18,497.54 L615.92,498.74 L614.72,500.01 L613.59,501.33 L612.52,502.71 L611.52,504.13 L610.58,505.6 L609.72,507.12 L608.94,508.67 L608.22,510.26 L607.59,511.88 L607.03,513.54 L606.56,515.21 L606.16,516.91 L605.85,518.62 L605.62,520.35 L605.47,522.08 L605.4,523.82 L605.42,525.57 L605.52,527.31 L605.71,529.04 L605.98,530.76 L606.33,532.47 L606.76,534.15 L607.28,535.82 L607.87,537.46 L608.54,539.06 L609.28,540.64 L610.11,542.17 L611,543.67 L611.96,545.12 L613,546.52 L614.1,547.87 L615.26,549.17 L616.48,550.41 L617.77,551.59 L619.1,552.71 L620.49,553.76 L621.93,554.74 L623.41,555.66 L624.94,556.5 L626.5,557.27 L628.1,557.96 L629.73,558.57 L631.39,559.11 L633.07,559.56 L634.77,559.93 L636.49,560.22 L638.22,560.43 L639.96,560.56 L641.7,560.6 L643.44,560.56 L645.18,560.43 L646.91,560.22 L648.63,559.93 L650.33,559.56 L652.01,559.11 L653.67,558.57 L655.3,557.96 L656.9,557.27 L658.46,556.5 L659.99,555.66 L661.47,554.74 L662.91,553.76 L664.3,552.71 L665.63,551.59 L666.92,550.41 L668.14,549.17 L669.3,547.87 L670.4,546.52 L671.44,545.12 L672.4,543.67 L673.29,542.17 L674.12,540.64 L674.86,539.06 L675.53,537.46 L676.12,535.82 L676.64,534.15 L677.07,532.47 L677.42,530.76 L677.69,529.04 L677.88,527.31 L677.98,525.57 L678,523.82 L677.93,522.08 L677.78,520.35 L677.55,518.62 L677.24,516.91 L676.84,515.21 L676.37,513.54 L675.81,511.88 L675.18,510.26 L674.46,508.67 L673.68,507.12 L672.82,505.6 L671.88,504.13 L670.88,502.71 L669.81,501.33 L668.68,500.01 L667.48,498.74 L666.22,497.54 L664.91,496.39 L663.55,495.31 L662.13,494.29 L660.67,493.35 L659.16,492.47 L657.61,491.67 L656.03,490.95 L654.41,490.3 L652.77,489.73 L651.1,489.24 L650.11,488.83 L649.26,488.18 L648.61,487.33 L648.2,486.34 L648.06,485.28 L648.2,484.22 L648.61,483.23 L649.26,482.38 L650.11,481.73 L651.1,481.32 L652.16,481.18Z" fill="#f3b0b0" stroke="#000" stroke-width="1.6" stroke-linejoin="round"/><circle cx="641.7" cy="524.3" r="36.3" fill="#fff" stroke="#000" stroke-width="1.44"/><path d="M594.21,733.98 L594.82,731.57 L595.52,729.19 L596.33,726.82 L597.24,724.48 L598.26,722.17 L599.39,719.9 L600.63,717.67 L601.98,715.5 L603.45,713.38 L605.02,711.34 L606.71,709.37 L608.5,707.49 L610.4,705.7 L612.39,704 L614.48,702.42 L616.66,700.95 L618.92,699.59 L621.26,698.36 L623.66,697.26 L626.12,696.29 L628.64,695.45 L631.19,694.74 L633.78,694.17 L636.4,693.73 L639.04,693.42 L641.69,693.25 L644.34,693.2 L647,693.28 L649.64,693.49 L652.28,693.82 L654.89,694.27 L657.48,694.85 L660.05,695.55 L662.57,696.37 L665.05,697.31 L667.49,698.36 L669.87,699.53 L672.2,700.82 L674.46,702.21 L676.65,703.7 L678.77,705.3 L680.81,707 L682.77,708.79 L684.64,710.68 L686.42,712.65 L688.11,714.7 L689.69,716.83 L691.18,719.03 L692.55,721.3 L693.82,723.63 L694.98,726.02 L696.02,728.46 L696.94,730.95 L697.75,733.48 L698.43,736.05 L699,738.64 L699.43,741.26 L699.75,743.9 L699.94,746.55 L700,749.2 L699.94,751.85 L699.75,754.5 L699.43,757.14 L699,759.76 L698.43,762.35 L697.75,764.92 L696.94,767.45 L696.02,769.94 L694.98,772.38 L693.82,774.77 L692.55,777.1 L691.18,779.37 L689.69,781.57 L688.11,783.7 L686.42,785.75 L684.64,787.72 L682.77,789.61 L680.81,791.4 L678.77,793.1 L676.65,794.7 L674.46,796.19 L672.2,797.58 L669.87,798.87 L667.49,800.04 L665.05,801.09 L662.57,802.03 L660.05,802.85 L657.48,803.55 L654.89,804.13 L652.28,804.58 L649.64,804.91 L647,805.12 L644.34,805.2 L641.69,805.15 L639.04,804.98 L636.4,804.67 L633.78,804.23 L631.19,803.66 L628.64,802.95 L626.12,802.11 L623.66,801.14 L621.26,800.04 L618.92,798.81 L616.66,797.45 L614.48,795.98 L612.39,794.4 L610.4,792.7 L608.5,790.91 L606.71,789.03 L605.02,787.06 L603.45,785.02 L601.98,782.9 L600.63,780.73 L599.39,778.5 L598.26,776.23 L597.24,773.92 L596.33,771.58 L595.52,769.21 L594.82,766.83 L594.21,764.42 L594.07,763.58 L594.15,762.72 L594.45,761.92 L594.95,761.22 L595.61,760.68 L596.39,760.32 L597.23,760.18 L598.09,760.26 L598.89,760.56 L599.59,761.06 L600.13,761.72 L600.49,762.5 L601.17,764.55 L601.94,766.56 L602.81,768.54 L603.78,770.47 L604.83,772.35 L605.97,774.18 L607.2,775.95 L608.51,777.67 L609.9,779.32 L611.36,780.9 L612.9,782.41 L614.51,783.85 L616.19,785.21 L617.92,786.49 L619.72,787.68 L621.57,788.79 L623.47,789.81 L625.42,790.73 L627.41,791.57 L629.44,792.31 L631.5,792.95 L633.58,793.49 L635.7,793.94 L637.82,794.28 L639.97,794.52 L642.12,794.66 L644.28,794.7 L646.43,794.63 L648.58,794.47 L650.73,794.2 L652.85,793.83 L654.96,793.36 L657.04,792.79 L659.09,792.13 L661.11,791.36 L663.09,790.5 L665.02,789.55 L666.91,788.51 L668.75,787.38 L670.53,786.17 L672.25,784.87 L673.91,783.49 L675.5,782.03 L677.02,780.5 L678.47,778.9 L679.84,777.23 L681.13,775.5 L682.33,773.71 L683.45,771.87 L684.48,769.97 L685.42,768.03 L686.27,766.05 L687.02,764.03 L687.67,761.97 L688.23,759.89 L688.68,757.78 L689.04,755.65 L689.3,753.51 L689.45,751.36 L689.5,749.2 L689.45,747.04 L689.3,744.89 L689.04,742.75 L688.68,740.62 L688.23,738.51 L687.67,736.43 L687.02,734.37 L686.27,732.35 L685.42,730.37 L684.48,728.43 L683.45,726.53 L682.33,724.69 L681.13,722.9 L679.84,721.17 L678.47,719.5 L677.02,717.9 L675.5,716.37 L673.91,714.91 L672.25,713.53 L670.53,712.23 L668.75,711.02 L666.91,709.89 L665.02,708.85 L663.09,707.9 L661.11,707.04 L659.09,706.27 L657.04,705.61 L654.96,705.04 L652.85,704.57 L650.73,704.2 L648.58,703.93 L646.43,703.77 L644.28,703.7 L642.12,703.74 L639.97,703.88 L637.82,704.12 L635.7,704.46 L633.58,704.91 L631.5,705.45 L629.44,706.09 L627.41,706.83 L625.42,707.67 L623.47,708.59 L621.57,709.61 L619.72,710.72 L617.92,711.91 L616.19,713.19 L614.51,714.55 L612.9,715.99 L611.36,717.5 L609.9,719.08 L608.51,720.73 L607.2,722.45 L605.97,724.22 L604.83,726.05 L603.78,727.93 L602.81,729.86 L601.94,731.84 L601.17,733.85 L600.49,735.9 L600.13,736.68 L599.59,737.34 L598.89,737.84 L598.09,738.14 L597.23,738.22 L596.39,738.08 L595.61,737.72 L594.95,737.18 L594.45,736.48 L594.15,735.68 L594.07,734.82Z" fill="#000" stroke="#000" stroke-width="3.2" stroke-linejoin="round"/><path d="M684,722 C685.17,723.17 688.83,726.5 691,729 C693.17,731.5 694.79,734.75 697,737 C699.21,739.25 700.42,741.2 704.25,742.5 C708.08,743.8 712.79,744.34 720,744.8 C727.21,745.26 742.92,745.17 747.5,745.25 L747.5,762.1 C742.92,762.18 727.21,762.37 720,762.6 C712.79,762.83 708.25,762.43 704.25,763.5 C700.25,764.57 698.38,767.08 696,769 C693.62,770.92 692,773.33 690,775 C688,776.67 685,778.33 684,779Z" fill="#000" stroke="#000" stroke-width="3.2" stroke-linejoin="round"/><path d="M594.21,733.98 L594.82,731.57 L595.52,729.19 L596.33,726.82 L597.24,724.48 L598.26,722.17 L599.39,719.9 L600.63,717.67 L601.98,715.5 L603.45,713.38 L605.02,711.34 L606.71,709.37 L608.5,707.49 L610.4,705.7 L612.39,704 L614.48,702.42 L616.66,700.95 L618.92,699.59 L621.26,698.36 L623.66,697.26 L626.12,696.29 L628.64,695.45 L631.19,694.74 L633.78,694.17 L636.4,693.73 L639.04,693.42 L641.69,693.25 L644.34,693.2 L647,693.28 L649.64,693.49 L652.28,693.82 L654.89,694.27 L657.48,694.85 L660.05,695.55 L662.57,696.37 L665.05,697.31 L667.49,698.36 L669.87,699.53 L672.2,700.82 L674.46,702.21 L676.65,703.7 L678.77,705.3 L680.81,707 L682.77,708.79 L684.64,710.68 L686.42,712.65 L688.11,714.7 L689.69,716.83 L691.18,719.03 L692.55,721.3 L693.82,723.63 L694.98,726.02 L696.02,728.46 L696.94,730.95 L697.75,733.48 L698.43,736.05 L699,738.64 L699.43,741.26 L699.75,743.9 L699.94,746.55 L700,749.2 L699.94,751.85 L699.75,754.5 L699.43,757.14 L699,759.76 L698.43,762.35 L697.75,764.92 L696.94,767.45 L696.02,769.94 L694.98,772.38 L693.82,774.77 L692.55,777.1 L691.18,779.37 L689.69,781.57 L688.11,783.7 L686.42,785.75 L684.64,787.72 L682.77,789.61 L680.81,791.4 L678.77,793.1 L676.65,794.7 L674.46,796.19 L672.2,797.58 L669.87,798.87 L667.49,800.04 L665.05,801.09 L662.57,802.03 L660.05,802.85 L657.48,803.55 L654.89,804.13 L652.28,804.58 L649.64,804.91 L647,805.12 L644.34,805.2 L641.69,805.15 L639.04,804.98 L636.4,804.67 L633.78,804.23 L631.19,803.66 L628.64,802.95 L626.12,802.11 L623.66,801.14 L621.26,800.04 L618.92,798.81 L616.66,797.45 L614.48,795.98 L612.39,794.4 L610.4,792.7 L608.5,790.91 L606.71,789.03 L605.02,787.06 L603.45,785.02 L601.98,782.9 L600.63,780.73 L599.39,778.5 L598.26,776.23 L597.24,773.92 L596.33,771.58 L595.52,769.21 L594.82,766.83 L594.21,764.42 L594.07,763.58 L594.15,762.72 L594.45,761.92 L594.95,761.22 L595.61,760.68 L596.39,760.32 L597.23,760.18 L598.09,760.26 L598.89,760.56 L599.59,761.06 L600.13,761.72 L600.49,762.5 L601.17,764.55 L601.94,766.56 L602.81,768.54 L603.78,770.47 L604.83,772.35 L605.97,774.18 L607.2,775.95 L608.51,777.67 L609.9,779.32 L611.36,780.9 L612.9,782.41 L614.51,783.85 L616.19,785.21 L617.92,786.49 L619.72,787.68 L621.57,788.79 L623.47,789.81 L625.42,790.73 L627.41,791.57 L629.44,792.31 L631.5,792.95 L633.58,793.49 L635.7,793.94 L637.82,794.28 L639.97,794.52 L642.12,794.66 L644.28,794.7 L646.43,794.63 L648.58,794.47 L650.73,794.2 L652.85,793.83 L654.96,793.36 L657.04,792.79 L659.09,792.13 L661.11,791.36 L663.09,790.5 L665.02,789.55 L666.91,788.51 L668.75,787.38 L670.53,786.17 L672.25,784.87 L673.91,783.49 L675.5,782.03 L677.02,780.5 L678.47,778.9 L679.84,777.23 L681.13,775.5 L682.33,773.71 L683.45,771.87 L684.48,769.97 L685.42,768.03 L686.27,766.05 L687.02,764.03 L687.67,761.97 L688.23,759.89 L688.68,757.78 L689.04,755.65 L689.3,753.51 L689.45,751.36 L689.5,749.2 L689.45,747.04 L689.3,744.89 L689.04,742.75 L688.68,740.62 L688.23,738.51 L687.67,736.43 L687.02,734.37 L686.27,732.35 L685.42,730.37 L684.48,728.43 L683.45,726.53 L682.33,724.69 L681.13,722.9 L679.84,721.17 L678.47,719.5 L677.02,717.9 L675.5,716.37 L673.91,714.91 L672.25,713.53 L670.53,712.23 L668.75,711.02 L666.91,709.89 L665.02,708.85 L663.09,707.9 L661.11,707.04 L659.09,706.27 L657.04,705.61 L654.96,705.04 L652.85,704.57 L650.73,704.2 L648.58,703.93 L646.43,703.77 L644.28,703.7 L642.12,703.74 L639.97,703.88 L637.82,704.12 L635.7,704.46 L633.58,704.91 L631.5,705.45 L629.44,706.09 L627.41,706.83 L625.42,707.67 L623.47,708.59 L621.57,709.61 L619.72,710.72 L617.92,711.91 L616.19,713.19 L614.51,714.55 L612.9,715.99 L611.36,717.5 L609.9,719.08 L608.51,720.73 L607.2,722.45 L605.97,724.22 L604.83,726.05 L603.78,727.93 L602.81,729.86 L601.94,731.84 L601.17,733.85 L600.49,735.9 L600.13,736.68 L599.59,737.34 L598.89,737.84 L598.09,738.14 L597.23,738.22 L596.39,738.08 L595.61,737.72 L594.95,737.18 L594.45,736.48 L594.15,735.68 L594.07,734.82Z" fill="#cda4d3"/><path d="M684,722 C685.17,723.17 688.83,726.5 691,729 C693.17,731.5 694.79,734.75 697,737 C699.21,739.25 700.42,741.2 704.25,742.5 C708.08,743.8 712.79,744.34 720,744.8 C727.21,745.26 742.92,745.17 747.5,745.25 L747.5,762.1 C742.92,762.18 727.21,762.37 720,762.6 C712.79,762.83 708.25,762.43 704.25,763.5 C700.25,764.57 698.38,767.08 696,769 C693.62,770.92 692,773.33 690,775 C688,776.67 685,778.33 684,779Z" fill="#cda4d3"/><rect x="747.5" y="742.25" width="6" height="22.85" fill="#f5f5f5"/><path d="M600.05,737.42 L600.67,735.33 L601.38,733.27 L602.19,731.24 L603.1,729.25 L604.11,727.32 L605.2,725.43 L606.39,723.59 L607.66,721.82 L609.02,720.11 L610.45,718.46 L611.97,716.89 L613.55,715.39 L615.21,713.97 L616.94,712.62 L618.72,711.37 L620.57,710.2 L622.46,709.12 L624.41,708.13 L626.4,707.24 L628.44,706.44 L630.51,705.75 L632.61,705.15 L634.73,704.65 L636.88,704.26 L639.05,703.97 L641.22,703.78 L643.4,703.7 L645.59,703.73 L647.77,703.86 L649.94,704.09 L652.1,704.43 L654.24,704.87 L656.35,705.41 L658.44,706.05 L660.49,706.79 L662.51,707.63 L664.48,708.57 L666.41,709.6 L668.28,710.72 L670.1,711.93 L671.86,713.22 L673.55,714.6 L675.18,716.06 L676.73,717.59 L678.21,719.2 L679.61,720.88 L680.93,722.62 L682.16,724.42 L683.3,726.28 L684.36,728.19 L685.32,730.15 L686.19,732.16 L686.96,734.2 L687.63,736.28 L688.2,738.39 L688.66,740.52 L689.03,742.67 L689.29,744.84 L689.45,747.02 L689.5,749.2 L689.45,751.38 L689.29,753.56 L689.03,755.73 L688.66,757.88 L688.2,760.01 L687.63,762.12 L686.96,764.2 L686.19,766.24 L685.32,768.25 L684.36,770.21 L683.3,772.12 L682.16,773.98 L680.93,775.78 L679.61,777.52 L678.21,779.2 L676.73,780.81 L675.18,782.34 L673.55,783.8 L671.86,785.18 L670.1,786.47 L668.28,787.68 L666.41,788.8 L664.48,789.83 L662.51,790.77 L660.49,791.61 L658.44,792.35 L656.35,792.99 L654.24,793.53 L652.1,793.97 L649.94,794.31 L647.77,794.54 L645.59,794.67 L643.4,794.7 L641.22,794.62 L639.05,794.43 L636.88,794.14 L634.73,793.75 L632.61,793.25 L630.51,792.65 L628.44,791.96 L626.4,791.16 L624.41,790.27 L622.46,789.28 L620.57,788.2 L618.72,787.03 L616.94,785.78 L615.21,784.43 L613.55,783.01 L611.97,781.51 L610.45,779.94 L609.02,778.29 L607.66,776.58 L606.39,774.81 L605.2,772.97 L604.11,771.08 L603.1,769.15 L602.19,767.16 L601.38,765.13 L600.67,763.07 L600.05,760.98 L599.91,759.88 L600.05,758.78 L600.47,757.75 L601.15,756.87 L602.03,756.2 L603.06,755.77 L604.16,755.63 L605.26,755.77 L606.28,756.2 L607.16,756.87 L607.84,757.75 L608.26,758.78 L608.76,760.48 L609.34,762.16 L610,763.81 L610.74,765.42 L611.56,767 L612.45,768.53 L613.42,770.02 L614.45,771.47 L615.55,772.86 L616.72,774.2 L617.95,775.48 L619.24,776.7 L620.59,777.85 L621.99,778.94 L623.44,779.96 L624.94,780.92 L626.49,781.79 L628.07,782.6 L629.69,783.32 L631.35,783.97 L633.03,784.54 L634.74,785.02 L636.47,785.42 L638.21,785.74 L639.97,785.98 L641.74,786.13 L643.52,786.2 L645.29,786.18 L647.06,786.07 L648.83,785.88 L650.58,785.61 L652.32,785.25 L654.04,784.81 L655.74,784.29 L657.41,783.68 L659.05,783 L660.65,782.24 L662.22,781.4 L663.74,780.49 L665.22,779.51 L666.65,778.46 L668.03,777.34 L669.35,776.15 L670.62,774.9 L671.82,773.6 L672.96,772.23 L674.03,770.82 L675.03,769.35 L675.96,767.84 L676.82,766.28 L677.6,764.69 L678.31,763.06 L678.93,761.4 L679.48,759.71 L679.94,757.99 L680.32,756.26 L680.62,754.51 L680.83,752.75 L680.96,750.98 L681,749.2 L680.96,747.42 L680.83,745.65 L680.62,743.89 L680.32,742.14 L679.94,740.41 L679.48,738.69 L678.93,737 L678.31,735.34 L677.6,733.71 L676.82,732.12 L675.96,730.56 L675.03,729.05 L674.03,727.58 L672.96,726.17 L671.82,724.8 L670.62,723.5 L669.35,722.25 L668.03,721.06 L666.65,719.94 L665.22,718.89 L663.74,717.91 L662.22,717 L660.65,716.16 L659.05,715.4 L657.41,714.72 L655.74,714.11 L654.04,713.59 L652.32,713.15 L650.58,712.79 L648.83,712.52 L647.06,712.33 L645.29,712.22 L643.52,712.2 L641.74,712.27 L639.97,712.42 L638.21,712.66 L636.47,712.98 L634.74,713.38 L633.03,713.86 L631.35,714.43 L629.69,715.08 L628.07,715.8 L626.49,716.61 L624.94,717.48 L623.44,718.44 L621.99,719.46 L620.59,720.55 L619.24,721.7 L617.95,722.92 L616.72,724.2 L615.55,725.54 L614.45,726.93 L613.42,728.38 L612.45,729.87 L611.56,731.4 L610.74,732.98 L610,734.59 L609.34,736.24 L608.76,737.92 L608.26,739.62 L607.84,740.65 L607.16,741.53 L606.28,742.2 L605.26,742.63 L604.16,742.77 L603.06,742.63 L602.03,742.2 L601.15,741.53 L600.47,740.65 L600.05,739.62 L599.91,738.52Z" fill="#f3b0b0" stroke="#000" stroke-width="1.6" stroke-linejoin="round"/><circle cx="644" cy="749.2" r="37" fill="#fff" stroke="#000" stroke-width="1.44"/><circle cx="625.5" cy="748.6" r="18.4" fill="#fff" stroke="#000" stroke-width="1.2"/><circle cx="651.4" cy="752" r="6.9" fill="#fff" stroke="#000" stroke-width="1.2"/><circle cx="662.6" cy="750.9" r="5.5" fill="#fff" stroke="#000" stroke-width="1.2"/><circle cx="673.5" cy="749.8" r="5" fill="#fff" stroke="#000" stroke-width="1.2"/><path d="M595.12,932.19 L595.73,929.77 L596.45,927.37 L597.26,924.99 L598.18,922.64 L599.2,920.32 L600.34,918.03 L601.59,915.79 L602.95,913.61 L604.42,911.49 L606.01,909.43 L607.7,907.45 L609.5,905.56 L611.41,903.76 L613.42,902.06 L615.52,900.46 L617.71,898.98 L619.99,897.62 L622.34,896.39 L624.75,895.28 L627.23,894.3 L629.75,893.46 L632.32,892.75 L634.93,892.17 L637.56,891.73 L640.21,891.42 L642.88,891.25 L645.54,891.2 L648.21,891.28 L650.87,891.49 L653.52,891.82 L656.15,892.28 L658.76,892.86 L661.33,893.56 L663.87,894.39 L666.37,895.33 L668.82,896.39 L671.21,897.57 L673.55,898.86 L675.82,900.26 L678.03,901.76 L680.16,903.37 L682.21,905.07 L684.18,906.88 L686.06,908.77 L687.85,910.75 L689.54,912.81 L691.14,914.95 L692.63,917.17 L694.01,919.45 L695.29,921.79 L696.45,924.2 L697.5,926.65 L698.43,929.16 L699.24,931.7 L699.93,934.28 L700.49,936.89 L700.93,939.52 L701.25,942.17 L701.44,944.83 L701.5,947.5 L701.44,950.17 L701.25,952.83 L700.93,955.48 L700.49,958.11 L699.93,960.72 L699.24,963.3 L698.43,965.84 L697.5,968.35 L696.45,970.8 L695.29,973.21 L694.01,975.55 L692.63,977.83 L691.14,980.05 L689.54,982.19 L687.85,984.25 L686.06,986.23 L684.18,988.12 L682.21,989.93 L680.16,991.63 L678.03,993.24 L675.82,994.74 L673.55,996.14 L671.21,997.43 L668.82,998.61 L666.37,999.67 L663.87,1000.61 L661.33,1001.44 L658.76,1002.14 L656.15,1002.72 L653.52,1003.18 L650.87,1003.51 L648.21,1003.72 L645.54,1003.8 L642.88,1003.75 L640.21,1003.58 L637.56,1003.27 L634.93,1002.83 L632.32,1002.25 L629.75,1001.54 L627.23,1000.7 L624.75,999.72 L622.34,998.61 L619.99,997.38 L617.71,996.02 L615.52,994.54 L613.42,992.94 L611.41,991.24 L609.5,989.44 L607.7,987.55 L606.01,985.57 L604.42,983.51 L602.95,981.39 L601.59,979.21 L600.34,976.97 L599.2,974.68 L598.18,972.36 L597.26,970.01 L596.45,967.63 L595.73,965.23 L595.12,962.81 L594.97,961.89 L595.06,960.96 L595.39,960.08 L595.93,959.32 L596.65,958.72 L597.5,958.34 L598.42,958.18 L599.36,958.27 L600.23,958.6 L600.99,959.14 L601.59,959.86 L601.98,960.72 L602.65,962.75 L603.42,964.75 L604.29,966.71 L605.24,968.63 L606.29,970.5 L607.42,972.32 L608.64,974.08 L609.94,975.78 L611.32,977.42 L612.78,978.99 L614.31,980.49 L615.9,981.92 L617.57,983.27 L619.3,984.54 L621.08,985.73 L622.92,986.83 L624.81,987.84 L626.74,988.76 L628.72,989.59 L630.73,990.32 L632.78,990.96 L634.85,991.5 L636.95,991.94 L639.07,992.28 L641.2,992.52 L643.33,992.66 L645.48,992.7 L647.62,992.64 L649.75,992.47 L651.88,992.2 L653.99,991.84 L656.08,991.37 L658.15,990.8 L660.19,990.14 L662.19,989.38 L664.16,988.53 L666.08,987.59 L667.96,986.55 L669.78,985.43 L671.55,984.22 L673.27,982.93 L674.91,981.56 L676.49,980.11 L678.01,978.59 L679.44,977 L680.8,975.35 L682.08,973.63 L683.28,971.85 L684.39,970.02 L685.41,968.14 L686.35,966.21 L687.19,964.24 L687.93,962.23 L688.58,960.19 L689.14,958.12 L689.59,956.02 L689.94,953.91 L690.2,951.78 L690.35,949.64 L690.4,947.5 L690.35,945.36 L690.2,943.22 L689.94,941.09 L689.59,938.98 L689.14,936.88 L688.58,934.81 L687.93,932.77 L687.19,930.76 L686.35,928.79 L685.41,926.86 L684.39,924.98 L683.28,923.15 L682.08,921.37 L680.8,919.65 L679.44,918 L678.01,916.41 L676.49,914.89 L674.91,913.44 L673.27,912.07 L671.55,910.78 L669.78,909.57 L667.96,908.45 L666.08,907.41 L664.16,906.47 L662.19,905.62 L660.19,904.86 L658.15,904.2 L656.08,903.63 L653.99,903.16 L651.88,902.8 L649.75,902.53 L647.62,902.36 L645.48,902.3 L643.33,902.34 L641.2,902.48 L639.07,902.72 L636.95,903.06 L634.85,903.5 L632.78,904.04 L630.73,904.68 L628.72,905.41 L626.74,906.24 L624.81,907.16 L622.92,908.17 L621.08,909.27 L619.3,910.46 L617.57,911.73 L615.9,913.08 L614.31,914.51 L612.78,916.01 L611.32,917.58 L609.94,919.22 L608.64,920.92 L607.42,922.68 L606.29,924.5 L605.24,926.37 L604.29,928.29 L603.42,930.25 L602.65,932.25 L601.98,934.28 L601.59,935.14 L600.99,935.86 L600.23,936.4 L599.36,936.73 L598.42,936.82 L597.5,936.66 L596.65,936.28 L595.93,935.68 L595.39,934.92 L595.06,934.04 L594.97,933.11Z" fill="#000" stroke="#000" stroke-width="3.2" stroke-linejoin="round"/><path d="M685,920 C686.17,921.25 689.83,924.92 692,927.5 C694.17,930.08 695.83,933.25 698,935.5 C700.17,937.75 701.33,939.7 705,941 C708.67,942.3 712.92,942.85 720,943.3 C727.08,943.75 742.92,943.63 747.5,943.7 L747.5,961 C742.92,961.03 727.08,961.1 720,961.2 C712.92,961.3 708.83,960.63 705,961.6 C701.17,962.57 699.33,965.1 697,967 C694.67,968.9 693,971.33 691,973 C689,974.67 686,976.33 685,977Z" fill="#000" stroke="#000" stroke-width="3.2" stroke-linejoin="round"/><path d="M595.12,932.19 L595.73,929.77 L596.45,927.37 L597.26,924.99 L598.18,922.64 L599.2,920.32 L600.34,918.03 L601.59,915.79 L602.95,913.61 L604.42,911.49 L606.01,909.43 L607.7,907.45 L609.5,905.56 L611.41,903.76 L613.42,902.06 L615.52,900.46 L617.71,898.98 L619.99,897.62 L622.34,896.39 L624.75,895.28 L627.23,894.3 L629.75,893.46 L632.32,892.75 L634.93,892.17 L637.56,891.73 L640.21,891.42 L642.88,891.25 L645.54,891.2 L648.21,891.28 L650.87,891.49 L653.52,891.82 L656.15,892.28 L658.76,892.86 L661.33,893.56 L663.87,894.39 L666.37,895.33 L668.82,896.39 L671.21,897.57 L673.55,898.86 L675.82,900.26 L678.03,901.76 L680.16,903.37 L682.21,905.07 L684.18,906.88 L686.06,908.77 L687.85,910.75 L689.54,912.81 L691.14,914.95 L692.63,917.17 L694.01,919.45 L695.29,921.79 L696.45,924.2 L697.5,926.65 L698.43,929.16 L699.24,931.7 L699.93,934.28 L700.49,936.89 L700.93,939.52 L701.25,942.17 L701.44,944.83 L701.5,947.5 L701.44,950.17 L701.25,952.83 L700.93,955.48 L700.49,958.11 L699.93,960.72 L699.24,963.3 L698.43,965.84 L697.5,968.35 L696.45,970.8 L695.29,973.21 L694.01,975.55 L692.63,977.83 L691.14,980.05 L689.54,982.19 L687.85,984.25 L686.06,986.23 L684.18,988.12 L682.21,989.93 L680.16,991.63 L678.03,993.24 L675.82,994.74 L673.55,996.14 L671.21,997.43 L668.82,998.61 L666.37,999.67 L663.87,1000.61 L661.33,1001.44 L658.76,1002.14 L656.15,1002.72 L653.52,1003.18 L650.87,1003.51 L648.21,1003.72 L645.54,1003.8 L642.88,1003.75 L640.21,1003.58 L637.56,1003.27 L634.93,1002.83 L632.32,1002.25 L629.75,1001.54 L627.23,1000.7 L624.75,999.72 L622.34,998.61 L619.99,997.38 L617.71,996.02 L615.52,994.54 L613.42,992.94 L611.41,991.24 L609.5,989.44 L607.7,987.55 L606.01,985.57 L604.42,983.51 L602.95,981.39 L601.59,979.21 L600.34,976.97 L599.2,974.68 L598.18,972.36 L597.26,970.01 L596.45,967.63 L595.73,965.23 L595.12,962.81 L594.97,961.89 L595.06,960.96 L595.39,960.08 L595.93,959.32 L596.65,958.72 L597.5,958.34 L598.42,958.18 L599.36,958.27 L600.23,958.6 L600.99,959.14 L601.59,959.86 L601.98,960.72 L602.65,962.75 L603.42,964.75 L604.29,966.71 L605.24,968.63 L606.29,970.5 L607.42,972.32 L608.64,974.08 L609.94,975.78 L611.32,977.42 L612.78,978.99 L614.31,980.49 L615.9,981.92 L617.57,983.27 L619.3,984.54 L621.08,985.73 L622.92,986.83 L624.81,987.84 L626.74,988.76 L628.72,989.59 L630.73,990.32 L632.78,990.96 L634.85,991.5 L636.95,991.94 L639.07,992.28 L641.2,992.52 L643.33,992.66 L645.48,992.7 L647.62,992.64 L649.75,992.47 L651.88,992.2 L653.99,991.84 L656.08,991.37 L658.15,990.8 L660.19,990.14 L662.19,989.38 L664.16,988.53 L666.08,987.59 L667.96,986.55 L669.78,985.43 L671.55,984.22 L673.27,982.93 L674.91,981.56 L676.49,980.11 L678.01,978.59 L679.44,977 L680.8,975.35 L682.08,973.63 L683.28,971.85 L684.39,970.02 L685.41,968.14 L686.35,966.21 L687.19,964.24 L687.93,962.23 L688.58,960.19 L689.14,958.12 L689.59,956.02 L689.94,953.91 L690.2,951.78 L690.35,949.64 L690.4,947.5 L690.35,945.36 L690.2,943.22 L689.94,941.09 L689.59,938.98 L689.14,936.88 L688.58,934.81 L687.93,932.77 L687.19,930.76 L686.35,928.79 L685.41,926.86 L684.39,924.98 L683.28,923.15 L682.08,921.37 L680.8,919.65 L679.44,918 L678.01,916.41 L676.49,914.89 L674.91,913.44 L673.27,912.07 L671.55,910.78 L669.78,909.57 L667.96,908.45 L666.08,907.41 L664.16,906.47 L662.19,905.62 L660.19,904.86 L658.15,904.2 L656.08,903.63 L653.99,903.16 L651.88,902.8 L649.75,902.53 L647.62,902.36 L645.48,902.3 L643.33,902.34 L641.2,902.48 L639.07,902.72 L636.95,903.06 L634.85,903.5 L632.78,904.04 L630.73,904.68 L628.72,905.41 L626.74,906.24 L624.81,907.16 L622.92,908.17 L621.08,909.27 L619.3,910.46 L617.57,911.73 L615.9,913.08 L614.31,914.51 L612.78,916.01 L611.32,917.58 L609.94,919.22 L608.64,920.92 L607.42,922.68 L606.29,924.5 L605.24,926.37 L604.29,928.29 L603.42,930.25 L602.65,932.25 L601.98,934.28 L601.59,935.14 L600.99,935.86 L600.23,936.4 L599.36,936.73 L598.42,936.82 L597.5,936.66 L596.65,936.28 L595.93,935.68 L595.39,934.92 L595.06,934.04 L594.97,933.11Z" fill="#cda4d3"/><path d="M685,920 C686.17,921.25 689.83,924.92 692,927.5 C694.17,930.08 695.83,933.25 698,935.5 C700.17,937.75 701.33,939.7 705,941 C708.67,942.3 712.92,942.85 720,943.3 C727.08,943.75 742.92,943.63 747.5,943.7 L747.5,961 C742.92,961.03 727.08,961.1 720,961.2 C712.92,961.3 708.83,960.63 705,961.6 C701.17,962.57 699.33,965.1 697,967 C694.67,968.9 693,971.33 691,973 C689,974.67 686,976.33 685,977Z" fill="#cda4d3"/><rect x="747.5" y="940.7" width="6" height="23.3" fill="#f5f5f5"/><path d="M601.54,935.8 L602.15,933.72 L602.86,931.67 L603.67,929.66 L604.57,927.69 L605.57,925.76 L606.66,923.88 L607.84,922.06 L609.1,920.3 L610.45,918.6 L611.88,916.96 L613.38,915.4 L614.96,913.91 L616.6,912.5 L618.31,911.17 L620.09,909.92 L621.92,908.76 L623.81,907.68 L625.74,906.7 L627.72,905.82 L629.74,905.03 L631.8,904.33 L633.88,903.74 L636,903.25 L638.13,902.86 L640.28,902.57 L642.44,902.38 L644.61,902.3 L646.78,902.33 L648.94,902.46 L651.1,902.69 L653.24,903.02 L655.37,903.46 L657.47,904 L659.54,904.64 L661.58,905.37 L663.58,906.21 L665.54,907.14 L667.46,908.16 L669.32,909.27 L671.13,910.47 L672.87,911.76 L674.56,913.13 L676.17,914.58 L677.71,916.1 L679.18,917.7 L680.57,919.36 L681.88,921.09 L683.11,922.88 L684.25,924.73 L685.29,926.63 L686.25,928.58 L687.11,930.57 L687.87,932.6 L688.54,934.66 L689.1,936.76 L689.57,938.88 L689.93,941.01 L690.19,943.17 L690.35,945.33 L690.4,947.5 L690.35,949.67 L690.19,951.83 L689.93,953.99 L689.57,956.12 L689.1,958.24 L688.54,960.34 L687.87,962.4 L687.11,964.43 L686.25,966.42 L685.29,968.37 L684.25,970.27 L683.11,972.12 L681.88,973.91 L680.57,975.64 L679.18,977.3 L677.71,978.9 L676.17,980.42 L674.56,981.87 L672.87,983.24 L671.13,984.53 L669.32,985.73 L667.46,986.84 L665.54,987.86 L663.58,988.79 L661.58,989.63 L659.54,990.36 L657.47,991 L655.37,991.54 L653.24,991.98 L651.1,992.31 L648.94,992.54 L646.78,992.67 L644.61,992.7 L642.44,992.62 L640.28,992.43 L638.13,992.14 L636,991.75 L633.88,991.26 L631.8,990.67 L629.74,989.97 L627.72,989.18 L625.74,988.3 L623.81,987.32 L621.92,986.24 L620.09,985.08 L618.31,983.83 L616.6,982.5 L614.96,981.09 L613.38,979.6 L611.88,978.04 L610.45,976.4 L609.1,974.7 L607.84,972.94 L606.66,971.12 L605.57,969.24 L604.57,967.31 L603.67,965.34 L602.86,963.33 L602.15,961.28 L601.54,959.2 L601.39,958.05 L601.54,956.9 L601.98,955.82 L602.69,954.9 L603.61,954.19 L604.69,953.75 L605.84,953.6 L606.99,953.75 L608.06,954.19 L608.99,954.9 L609.69,955.82 L610.14,956.9 L610.63,958.57 L611.2,960.21 L611.85,961.83 L612.57,963.41 L613.37,964.96 L614.25,966.47 L615.19,967.93 L616.21,969.35 L617.29,970.71 L618.44,972.02 L619.64,973.28 L620.91,974.48 L622.23,975.61 L623.61,976.68 L625.03,977.68 L626.5,978.62 L628.02,979.48 L629.57,980.26 L631.16,980.98 L632.78,981.61 L634.44,982.17 L636.11,982.64 L637.81,983.04 L639.52,983.35 L641.25,983.58 L642.98,983.73 L644.72,983.8 L646.47,983.78 L648.21,983.68 L649.94,983.49 L651.66,983.22 L653.37,982.87 L655.05,982.44 L656.72,981.92 L658.36,981.33 L659.96,980.66 L661.54,979.92 L663.07,979.09 L664.57,978.2 L666.02,977.24 L667.42,976.2 L668.77,975.1 L670.07,973.94 L671.31,972.72 L672.49,971.43 L673.61,970.1 L674.66,968.71 L675.64,967.27 L676.56,965.79 L677.4,964.26 L678.17,962.7 L678.86,961.1 L679.47,959.47 L680.01,957.81 L680.46,956.13 L680.83,954.43 L681.12,952.71 L681.33,950.98 L681.46,949.24 L681.5,947.5 L681.46,945.76 L681.33,944.02 L681.12,942.29 L680.83,940.57 L680.46,938.87 L680.01,937.19 L679.47,935.53 L678.86,933.9 L678.17,932.3 L677.4,930.74 L676.56,929.21 L675.64,927.73 L674.66,926.29 L673.61,924.9 L672.49,923.57 L671.31,922.28 L670.07,921.06 L668.77,919.9 L667.42,918.8 L666.02,917.76 L664.57,916.8 L663.07,915.91 L661.54,915.08 L659.96,914.34 L658.36,913.67 L656.72,913.08 L655.05,912.56 L653.37,912.13 L651.66,911.78 L649.94,911.51 L648.21,911.32 L646.47,911.22 L644.72,911.2 L642.98,911.27 L641.25,911.42 L639.52,911.65 L637.81,911.96 L636.11,912.36 L634.44,912.83 L632.78,913.39 L631.16,914.02 L629.57,914.74 L628.02,915.52 L626.5,916.38 L625.03,917.32 L623.61,918.32 L622.23,919.39 L620.91,920.52 L619.64,921.72 L618.44,922.98 L617.29,924.29 L616.21,925.65 L615.19,927.07 L614.25,928.53 L613.37,930.04 L612.57,931.59 L611.85,933.17 L611.2,934.79 L610.63,936.43 L610.14,938.1 L609.69,939.18 L608.99,940.1 L608.06,940.81 L606.99,941.25 L605.84,941.4 L604.69,941.25 L603.61,940.81 L602.69,940.1 L601.98,939.18 L601.54,938.1 L601.39,936.95Z" fill="#f3b0b0" stroke="#000" stroke-width="1.6" stroke-linejoin="round"/><circle cx="645.2" cy="947.5" r="36.3" fill="#fff" stroke="#000" stroke-width="1.44"/><ellipse cx="613.5" cy="940.5" rx="6.25" ry="4.3" fill="#fff" stroke="#000" stroke-width="1.2"/><ellipse cx="613.5" cy="947.81" rx="6.25" ry="4.3" fill="#fff" stroke="#000" stroke-width="1.2"/><ellipse cx="613.5" cy="955.12" rx="6.25" ry="4.3" fill="#fff" stroke="#000" stroke-width="1.2"/><ellipse cx="671.2" cy="942.5" rx="6.25" ry="4.3" fill="#fff" stroke="#000" stroke-width="1.2"/><ellipse cx="671.2" cy="949.81" rx="6.25" ry="4.3" fill="#fff" stroke="#000" stroke-width="1.2"/><ellipse cx="671.2" cy="957.12" rx="6.25" ry="4.3" fill="#fff" stroke="#000" stroke-width="1.2"/><circle cx="640.8" cy="942.6" r="2.5" fill="#fff" stroke="#000" stroke-width="1"/><circle cx="649.1" cy="950.9" r="2.5" fill="#fff" stroke="#000" stroke-width="1"/><path d="M203.25,962.81 L202.52,966 L201.67,969.17 L200.67,972.32 L199.54,975.44 L198.27,978.52 L196.86,981.55 L195.29,984.53 L193.58,987.45 L191.71,990.29 L189.7,993.04 L187.54,995.7 L185.23,998.25 L182.78,1000.68 L180.2,1002.98 L177.48,1005.14 L174.65,1007.16 L171.7,1009.02 L168.64,1010.72 L165.49,1012.24 L162.26,1013.6 L158.95,1014.77 L155.59,1015.77 L152.17,1016.59 L148.71,1017.23 L145.23,1017.7 L141.72,1017.98 L138.21,1018.1 L134.69,1018.04 L131.18,1017.82 L127.69,1017.43 L124.22,1016.87 L120.77,1016.15 L117.37,1015.26 L114.01,1014.21 L110.71,1013.01 L107.47,1011.64 L104.3,1010.12 L101.2,1008.46 L98.19,1006.64 L95.27,1004.68 L92.44,1002.59 L89.72,1000.36 L87.11,998.01 L84.61,995.53 L82.23,992.94 L79.99,990.24 L77.87,987.43 L75.89,984.52 L74.05,981.53 L72.36,978.44 L70.81,975.28 L69.42,972.05 L68.18,968.76 L67.11,965.41 L66.19,962.02 L65.44,958.58 L64.86,955.11 L64.44,951.62 L64.18,948.12 L64.1,944.6 L64.18,941.08 L64.44,937.58 L64.86,934.09 L65.44,930.62 L66.19,927.18 L67.11,923.79 L68.18,920.44 L69.42,917.15 L70.81,913.92 L72.36,910.76 L74.05,907.67 L75.89,904.68 L77.87,901.77 L79.99,898.96 L82.23,896.26 L84.61,893.67 L87.11,891.19 L89.72,888.84 L92.44,886.61 L95.27,884.52 L98.19,882.56 L101.2,880.74 L104.3,879.08 L107.47,877.56 L110.71,876.19 L114.01,874.99 L117.37,873.94 L120.77,873.05 L124.22,872.33 L127.69,871.77 L131.18,871.38 L134.69,871.16 L138.21,871.1 L141.72,871.22 L145.23,871.5 L148.71,871.97 L152.17,872.61 L155.59,873.43 L158.95,874.43 L162.26,875.6 L165.49,876.96 L168.64,878.48 L171.7,880.18 L174.65,882.04 L177.48,884.06 L180.2,886.22 L182.78,888.52 L185.23,890.95 L187.54,893.5 L189.7,896.16 L191.71,898.91 L193.58,901.75 L195.29,904.67 L196.86,907.65 L198.27,910.68 L199.54,913.76 L200.67,916.88 L201.67,920.03 L202.52,923.2 L203.25,926.39 L203.42,927.6 L203.27,928.81 L202.82,929.94 L202.09,930.91 L201.13,931.66 L200,932.14 L198.8,932.3 L197.59,932.16 L196.46,931.7 L195.49,930.97 L194.74,930.01 L194.26,928.89 L193.44,926.19 L192.5,923.54 L191.43,920.94 L190.24,918.39 L188.92,915.91 L187.49,913.48 L185.95,911.13 L184.29,908.86 L182.53,906.67 L180.66,904.56 L178.7,902.55 L176.64,900.63 L174.49,898.81 L172.26,897.1 L169.95,895.5 L167.56,894.01 L165.11,892.63 L162.59,891.37 L160.01,890.24 L157.39,889.23 L154.72,888.35 L152.01,887.59 L149.26,886.97 L146.49,886.48 L143.7,886.12 L140.9,885.89 L138.09,885.8 L135.27,885.85 L132.47,886.02 L129.67,886.34 L126.89,886.78 L124.14,887.36 L121.42,888.07 L118.73,888.91 L116.09,889.88 L113.5,890.97 L110.96,892.18 L108.48,893.52 L106.07,894.97 L103.73,896.53 L101.47,898.21 L99.3,899.99 L97.21,901.87 L95.21,903.85 L93.31,905.93 L91.51,908.09 L89.81,910.34 L88.23,912.66 L86.76,915.06 L85.4,917.53 L84.17,920.05 L83.06,922.64 L82.07,925.27 L81.21,927.95 L80.47,930.67 L79.87,933.41 L79.4,936.19 L79.07,938.98 L78.87,941.79 L78.8,944.6 L78.87,947.41 L79.07,950.22 L79.4,953.01 L79.87,955.79 L80.47,958.53 L81.21,961.25 L82.07,963.93 L83.06,966.56 L84.17,969.15 L85.4,971.67 L86.76,974.14 L88.23,976.54 L89.81,978.86 L91.51,981.11 L93.31,983.27 L95.21,985.35 L97.21,987.33 L99.3,989.21 L101.47,990.99 L103.73,992.67 L106.07,994.23 L108.48,995.68 L110.96,997.02 L113.5,998.23 L116.09,999.32 L118.73,1000.29 L121.42,1001.13 L124.14,1001.84 L126.89,1002.42 L129.67,1002.86 L132.47,1003.18 L135.27,1003.35 L138.09,1003.4 L140.9,1003.31 L143.7,1003.08 L146.49,1002.72 L149.26,1002.23 L152.01,1001.61 L154.72,1000.85 L157.39,999.97 L160.01,998.96 L162.59,997.83 L165.11,996.57 L167.56,995.19 L169.95,993.7 L172.26,992.1 L174.49,990.39 L176.64,988.57 L178.7,986.65 L180.66,984.64 L182.53,982.53 L184.29,980.34 L185.95,978.07 L187.49,975.72 L188.92,973.29 L190.24,970.81 L191.43,968.26 L192.5,965.66 L193.44,963.01 L194.26,960.31 L194.74,959.19 L195.49,958.23 L196.46,957.5 L197.59,957.04 L198.8,956.9 L200,957.06 L201.13,957.54 L202.09,958.29 L202.82,959.26 L203.27,960.39 L203.42,961.6Z" fill="#000" stroke="#000" stroke-width="3.2" stroke-linejoin="round"/><path d="M90,900 C88.33,901.67 82.83,906.5 80,910 C77.17,913.5 75.33,917.8 73,921 C70.67,924.2 69.83,926.75 66,929.2 C62.17,931.65 56.83,934.15 50,935.7 C43.17,937.25 34,937.83 25,938.5 C16,939.17 0.83,939.54 -4,939.75 L-4,961.75 C0.83,961.79 16,961.79 25,962 C34,962.21 43.17,961.75 50,963 C56.83,964.25 61.7,967.08 66,969.5 C70.3,971.92 72.8,974.75 75.8,977.5 C78.8,980.25 81.3,983.75 84,986 C86.7,988.25 90.67,990.17 92,991Z" fill="#000" stroke="#000" stroke-width="3.2" stroke-linejoin="round"/><path d="M203.25,962.81 L202.52,966 L201.67,969.17 L200.67,972.32 L199.54,975.44 L198.27,978.52 L196.86,981.55 L195.29,984.53 L193.58,987.45 L191.71,990.29 L189.7,993.04 L187.54,995.7 L185.23,998.25 L182.78,1000.68 L180.2,1002.98 L177.48,1005.14 L174.65,1007.16 L171.7,1009.02 L168.64,1010.72 L165.49,1012.24 L162.26,1013.6 L158.95,1014.77 L155.59,1015.77 L152.17,1016.59 L148.71,1017.23 L145.23,1017.7 L141.72,1017.98 L138.21,1018.1 L134.69,1018.04 L131.18,1017.82 L127.69,1017.43 L124.22,1016.87 L120.77,1016.15 L117.37,1015.26 L114.01,1014.21 L110.71,1013.01 L107.47,1011.64 L104.3,1010.12 L101.2,1008.46 L98.19,1006.64 L95.27,1004.68 L92.44,1002.59 L89.72,1000.36 L87.11,998.01 L84.61,995.53 L82.23,992.94 L79.99,990.24 L77.87,987.43 L75.89,984.52 L74.05,981.53 L72.36,978.44 L70.81,975.28 L69.42,972.05 L68.18,968.76 L67.11,965.41 L66.19,962.02 L65.44,958.58 L64.86,955.11 L64.44,951.62 L64.18,948.12 L64.1,944.6 L64.18,941.08 L64.44,937.58 L64.86,934.09 L65.44,930.62 L66.19,927.18 L67.11,923.79 L68.18,920.44 L69.42,917.15 L70.81,913.92 L72.36,910.76 L74.05,907.67 L75.89,904.68 L77.87,901.77 L79.99,898.96 L82.23,896.26 L84.61,893.67 L87.11,891.19 L89.72,888.84 L92.44,886.61 L95.27,884.52 L98.19,882.56 L101.2,880.74 L104.3,879.08 L107.47,877.56 L110.71,876.19 L114.01,874.99 L117.37,873.94 L120.77,873.05 L124.22,872.33 L127.69,871.77 L131.18,871.38 L134.69,871.16 L138.21,871.1 L141.72,871.22 L145.23,871.5 L148.71,871.97 L152.17,872.61 L155.59,873.43 L158.95,874.43 L162.26,875.6 L165.49,876.96 L168.64,878.48 L171.7,880.18 L174.65,882.04 L177.48,884.06 L180.2,886.22 L182.78,888.52 L185.23,890.95 L187.54,893.5 L189.7,896.16 L191.71,898.91 L193.58,901.75 L195.29,904.67 L196.86,907.65 L198.27,910.68 L199.54,913.76 L200.67,916.88 L201.67,920.03 L202.52,923.2 L203.25,926.39 L203.42,927.6 L203.27,928.81 L202.82,929.94 L202.09,930.91 L201.13,931.66 L200,932.14 L198.8,932.3 L197.59,932.16 L196.46,931.7 L195.49,930.97 L194.74,930.01 L194.26,928.89 L193.44,926.19 L192.5,923.54 L191.43,920.94 L190.24,918.39 L188.92,915.91 L187.49,913.48 L185.95,911.13 L184.29,908.86 L182.53,906.67 L180.66,904.56 L178.7,902.55 L176.64,900.63 L174.49,898.81 L172.26,897.1 L169.95,895.5 L167.56,894.01 L165.11,892.63 L162.59,891.37 L160.01,890.24 L157.39,889.23 L154.72,888.35 L152.01,887.59 L149.26,886.97 L146.49,886.48 L143.7,886.12 L140.9,885.89 L138.09,885.8 L135.27,885.85 L132.47,886.02 L129.67,886.34 L126.89,886.78 L124.14,887.36 L121.42,888.07 L118.73,888.91 L116.09,889.88 L113.5,890.97 L110.96,892.18 L108.48,893.52 L106.07,894.97 L103.73,896.53 L101.47,898.21 L99.3,899.99 L97.21,901.87 L95.21,903.85 L93.31,905.93 L91.51,908.09 L89.81,910.34 L88.23,912.66 L86.76,915.06 L85.4,917.53 L84.17,920.05 L83.06,922.64 L82.07,925.27 L81.21,927.95 L80.47,930.67 L79.87,933.41 L79.4,936.19 L79.07,938.98 L78.87,941.79 L78.8,944.6 L78.87,947.41 L79.07,950.22 L79.4,953.01 L79.87,955.79 L80.47,958.53 L81.21,961.25 L82.07,963.93 L83.06,966.56 L84.17,969.15 L85.4,971.67 L86.76,974.14 L88.23,976.54 L89.81,978.86 L91.51,981.11 L93.31,983.27 L95.21,985.35 L97.21,987.33 L99.3,989.21 L101.47,990.99 L103.73,992.67 L106.07,994.23 L108.48,995.68 L110.96,997.02 L113.5,998.23 L116.09,999.32 L118.73,1000.29 L121.42,1001.13 L124.14,1001.84 L126.89,1002.42 L129.67,1002.86 L132.47,1003.18 L135.27,1003.35 L138.09,1003.4 L140.9,1003.31 L143.7,1003.08 L146.49,1002.72 L149.26,1002.23 L152.01,1001.61 L154.72,1000.85 L157.39,999.97 L160.01,998.96 L162.59,997.83 L165.11,996.57 L167.56,995.19 L169.95,993.7 L172.26,992.1 L174.49,990.39 L176.64,988.57 L178.7,986.65 L180.66,984.64 L182.53,982.53 L184.29,980.34 L185.95,978.07 L187.49,975.72 L188.92,973.29 L190.24,970.81 L191.43,968.26 L192.5,965.66 L193.44,963.01 L194.26,960.31 L194.74,959.19 L195.49,958.23 L196.46,957.5 L197.59,957.04 L198.8,956.9 L200,957.06 L201.13,957.54 L202.09,958.29 L202.82,959.26 L203.27,960.39 L203.42,961.6Z" fill="#cda4d3"/><path d="M90,900 C88.33,901.67 82.83,906.5 80,910 C77.17,913.5 75.33,917.8 73,921 C70.67,924.2 69.83,926.75 66,929.2 C62.17,931.65 56.83,934.15 50,935.7 C43.17,937.25 34,937.83 25,938.5 C16,939.17 0.83,939.54 -4,939.75 L-4,961.75 C0.83,961.79 16,961.79 25,962 C34,962.21 43.17,961.75 50,963 C56.83,964.25 61.7,967.08 66,969.5 C70.3,971.92 72.8,974.75 75.8,977.5 C78.8,980.25 81.3,983.75 84,986 C86.7,988.25 90.67,990.17 92,991Z" fill="#cda4d3"/><path d="M194.65,958.83 L193.9,961.56 L193.02,964.26 L192,966.91 L190.86,969.51 L189.6,972.05 L188.21,974.53 L186.71,976.94 L185.09,979.27 L183.36,981.52 L181.53,983.69 L179.59,985.76 L177.55,987.74 L175.42,989.62 L173.2,991.39 L170.9,993.06 L168.53,994.61 L166.08,996.04 L163.56,997.36 L160.98,998.55 L158.35,999.62 L155.67,1000.55 L152.95,1001.36 L150.19,1002.04 L147.41,1002.58 L144.6,1002.98 L141.77,1003.25 L138.93,1003.38 L136.09,1003.38 L133.26,1003.24 L130.43,1002.96 L127.63,1002.55 L124.84,1002 L122.08,1001.32 L119.36,1000.5 L116.69,999.56 L114.06,998.48 L111.49,997.28 L108.97,995.96 L106.53,994.52 L104.15,992.96 L101.86,991.29 L99.65,989.51 L97.52,987.63 L95.49,985.64 L93.56,983.56 L91.73,981.39 L90.01,979.13 L88.4,976.8 L86.9,974.38 L85.52,971.9 L84.27,969.36 L83.13,966.75 L82.13,964.1 L81.25,961.4 L80.51,958.66 L79.89,955.89 L79.42,953.09 L79.07,950.27 L78.87,947.44 L78.8,944.6 L78.87,941.76 L79.07,938.93 L79.42,936.11 L79.89,933.31 L80.51,930.54 L81.25,927.8 L82.13,925.1 L83.13,922.45 L84.27,919.84 L85.52,917.3 L86.9,914.82 L88.4,912.4 L90.01,910.07 L91.73,907.81 L93.56,905.64 L95.49,903.56 L97.52,901.57 L99.65,899.69 L101.86,897.91 L104.15,896.24 L106.53,894.68 L108.97,893.24 L111.49,891.92 L114.06,890.72 L116.69,889.64 L119.36,888.7 L122.08,887.88 L124.84,887.2 L127.63,886.65 L130.43,886.24 L133.26,885.96 L136.09,885.82 L138.93,885.82 L141.77,885.95 L144.6,886.22 L147.41,886.62 L150.19,887.16 L152.95,887.84 L155.67,888.65 L158.35,889.58 L160.98,890.65 L163.56,891.84 L166.08,893.16 L168.53,894.59 L170.9,896.14 L173.2,897.81 L175.42,899.58 L177.55,901.46 L179.59,903.44 L181.53,905.51 L183.36,907.68 L185.09,909.93 L186.71,912.26 L188.21,914.67 L189.6,917.15 L190.86,919.69 L192,922.29 L193.02,924.94 L193.9,927.64 L194.65,930.37 L194.84,932 L194.6,933.61 L193.95,935.11 L192.93,936.38 L191.62,937.35 L190.1,937.95 L188.48,938.14 L186.87,937.89 L185.37,937.24 L184.09,936.23 L183.12,934.92 L182.52,933.4 L181.93,931.24 L181.24,929.12 L180.44,927.03 L179.54,924.98 L178.54,922.98 L177.45,921.03 L176.27,919.14 L174.99,917.3 L173.63,915.53 L172.19,913.82 L170.66,912.19 L169.06,910.63 L167.38,909.15 L165.64,907.75 L163.82,906.44 L161.95,905.22 L160.02,904.09 L158.04,903.06 L156.01,902.12 L153.94,901.28 L151.83,900.54 L149.69,899.91 L147.52,899.37 L145.32,898.95 L143.11,898.63 L140.88,898.42 L138.65,898.31 L136.41,898.32 L134.18,898.43 L131.96,898.65 L129.75,898.97 L127.55,899.4 L125.38,899.94 L123.24,900.58 L121.13,901.33 L119.06,902.17 L117.04,903.12 L115.06,904.16 L113.13,905.29 L111.26,906.52 L109.46,907.83 L107.72,909.24 L106.04,910.72 L104.44,912.28 L102.92,913.92 L101.48,915.63 L100.13,917.41 L98.86,919.25 L97.68,921.15 L96.59,923.1 L95.6,925.11 L94.71,927.16 L93.92,929.25 L93.23,931.37 L92.64,933.53 L92.16,935.71 L91.78,937.92 L91.52,940.14 L91.35,942.37 L91.3,944.6 L91.35,946.83 L91.52,949.06 L91.78,951.28 L92.16,953.49 L92.64,955.67 L93.23,957.83 L93.92,959.95 L94.71,962.04 L95.6,964.09 L96.59,966.1 L97.68,968.05 L98.86,969.95 L100.13,971.79 L101.48,973.57 L102.92,975.28 L104.44,976.92 L106.04,978.48 L107.72,979.96 L109.46,981.37 L111.26,982.68 L113.13,983.91 L115.06,985.04 L117.04,986.08 L119.06,987.03 L121.13,987.87 L123.24,988.62 L125.38,989.26 L127.55,989.8 L129.75,990.23 L131.96,990.55 L134.18,990.77 L136.41,990.88 L138.65,990.89 L140.88,990.78 L143.11,990.57 L145.32,990.25 L147.52,989.83 L149.69,989.29 L151.83,988.66 L153.94,987.92 L156.01,987.08 L158.04,986.14 L160.02,985.11 L161.95,983.98 L163.82,982.76 L165.64,981.45 L167.38,980.05 L169.06,978.57 L170.66,977.01 L172.19,975.38 L173.63,973.67 L174.99,971.9 L176.27,970.06 L177.45,968.17 L178.54,966.22 L179.54,964.22 L180.44,962.17 L181.24,960.08 L181.93,957.96 L182.52,955.8 L183.12,954.28 L184.09,952.97 L185.37,951.96 L186.87,951.31 L188.48,951.06 L190.1,951.25 L191.62,951.85 L192.93,952.82 L193.95,954.09 L194.6,955.59 L194.84,957.2Z" fill="#f3b0b0" stroke="#000" stroke-width="1.6" stroke-linejoin="round"/><circle cx="137.6" cy="944.6" r="46.3" fill="#fff" stroke="#000" stroke-width="1.44"/><ellipse cx="99.5" cy="938.5" rx="8.75" ry="5.5" fill="#fff" stroke="#000" stroke-width="1.2"/><ellipse cx="99.5" cy="947.85" rx="8.75" ry="5.5" fill="#fff" stroke="#000" stroke-width="1.2"/><ellipse cx="99.5" cy="957.2" rx="8.75" ry="5.5" fill="#fff" stroke="#000" stroke-width="1.2"/><ellipse cx="176" cy="934.5" rx="8.25" ry="5.5" fill="#fff" stroke="#000" stroke-width="1.2"/><ellipse cx="176" cy="943.85" rx="8.25" ry="5.5" fill="#fff" stroke="#000" stroke-width="1.2"/><ellipse cx="176" cy="953.2" rx="8.25" ry="5.5" fill="#fff" stroke="#000" stroke-width="1.2"/><circle cx="140.3" cy="937.8" r="3.2" fill="#fff" stroke="#000" stroke-width="1.1"/><circle cx="129.8" cy="948.6" r="3.2" fill="#fff" stroke="#000" stroke-width="1.1"/><path d="M511.4,519.75 C512.77,519.75 513.44,513.91 515.5,511.5 C517.56,509.09 520.54,506.68 523.75,505.3 C526.96,503.93 531.08,503.13 534.75,503.25 C538.42,503.37 542.54,504.39 545.75,506 C548.96,507.61 552.06,510.15 554,512.9 C555.94,515.65 557.17,519.52 557.4,522.5 C557.63,525.48 556.65,528.4 555.4,530.75 C554.15,533.1 549.8,534.54 549.9,536.6 C550,538.66 554.63,540.63 556,543.1 C557.37,545.57 558.2,548.42 558.1,551.4 C558,554.38 557.23,558.13 555.4,561 C553.57,563.87 550.54,567 547.1,568.6 C543.66,570.2 538.64,570.6 534.75,570.6 C530.86,570.6 526.96,570.2 523.75,568.6 C520.54,567 517.56,564.02 515.5,561 C513.44,557.98 512.77,550.5 511.4,550.5 C510.02,550.5 509.32,557.98 507.25,561 C505.18,564.02 502.44,567 499,568.6 C495.56,570.2 490.5,570.72 486.6,570.6 C482.7,570.48 478.8,569.73 475.6,567.9 C472.4,566.07 469.12,562.58 467.4,559.6 C465.68,556.62 465.3,552.98 465.3,550 C465.3,547.02 466.13,543.92 467.4,541.75 C468.67,539.58 472.9,538.83 472.9,537 C472.9,535.17 468.67,533.17 467.4,530.75 C466.13,528.33 465.18,525.48 465.3,522.5 C465.42,519.52 466.38,515.65 468.1,512.9 C469.82,510.15 472.52,507.61 475.6,506 C478.68,504.39 482.7,503.37 486.6,503.25 C490.5,503.13 495.56,503.93 499,505.3 C502.44,506.68 505.18,509.09 507.25,511.5 C509.32,513.91 510.02,519.75 511.4,519.75Z" fill="#fff" stroke="#000" stroke-width="1.5"/><ellipse cx="488.7" cy="521.8" rx="11.4" ry="9.8" fill="#fff" stroke="#000" stroke-width="1.4"/><ellipse cx="532.7" cy="521.5" rx="11.4" ry="9.8" fill="#fff" stroke="#000" stroke-width="1.4"/><ellipse cx="488.7" cy="550.7" rx="11.4" ry="9.8" fill="#fff" stroke="#000" stroke-width="1.4"/><ellipse cx="533.5" cy="550.7" rx="11.4" ry="9.8" fill="#fff" stroke="#000" stroke-width="1.4"/><path d="M508.8,749.15 C510.17,749.15 510.84,743.31 512.9,740.9 C514.96,738.49 517.94,736.08 521.15,734.7 C524.36,733.33 528.48,732.53 532.15,732.65 C535.82,732.77 539.94,733.79 543.15,735.4 C546.36,737.01 549.46,739.55 551.4,742.3 C553.34,745.05 554.57,748.92 554.8,751.9 C555.03,754.88 554.05,757.8 552.8,760.15 C551.55,762.5 547.2,763.94 547.3,766 C547.4,768.06 552.03,770.03 553.4,772.5 C554.77,774.97 555.6,777.82 555.5,780.8 C555.4,783.78 554.63,787.53 552.8,790.4 C550.97,793.27 547.94,796.4 544.5,798 C541.06,799.6 536.04,800 532.15,800 C528.26,800 524.36,799.6 521.15,798 C517.94,796.4 514.96,793.42 512.9,790.4 C510.84,787.38 510.17,779.9 508.8,779.9 C507.42,779.9 506.72,787.38 504.65,790.4 C502.58,793.42 499.84,796.4 496.4,798 C492.96,799.6 487.9,800.12 484,800 C480.1,799.88 476.2,799.13 473,797.3 C469.8,795.47 466.52,791.98 464.8,789 C463.08,786.02 462.7,782.38 462.7,779.4 C462.7,776.42 463.53,773.32 464.8,771.15 C466.07,768.98 470.3,768.23 470.3,766.4 C470.3,764.57 466.07,762.57 464.8,760.15 C463.53,757.73 462.58,754.88 462.7,751.9 C462.82,748.92 463.78,745.05 465.5,742.3 C467.22,739.55 469.92,737.01 473,735.4 C476.08,733.79 480.1,732.77 484,732.65 C487.9,732.53 492.96,733.33 496.4,734.7 C499.84,736.08 502.58,738.49 504.65,740.9 C506.72,743.31 507.42,749.15 508.8,749.15Z" fill="#fff" stroke="#000" stroke-width="1.5"/><ellipse cx="485.25" cy="751.1" rx="11.6" ry="10" fill="#1a1a1a"/><circle cx="481.5" cy="744.58" r="1.6" fill="#fff"/><circle cx="485.25" cy="744.58" r="1.6" fill="#fff"/><circle cx="489" cy="744.58" r="1.6" fill="#fff"/><circle cx="479.62" cy="747.84" r="1.6" fill="#fff"/><circle cx="483.38" cy="747.84" r="1.6" fill="#fff"/><circle cx="487.12" cy="747.84" r="1.6" fill="#fff"/><circle cx="490.88" cy="747.84" r="1.6" fill="#fff"/><circle cx="477.75" cy="751.1" r="1.6" fill="#fff"/><circle cx="481.5" cy="751.1" r="1.6" fill="#fff"/><circle cx="485.25" cy="751.1" r="1.6" fill="#fff"/><circle cx="489" cy="751.1" r="1.6" fill="#fff"/><circle cx="492.75" cy="751.1" r="1.6" fill="#fff"/><circle cx="479.62" cy="754.36" r="1.6" fill="#fff"/><circle cx="483.38" cy="754.36" r="1.6" fill="#fff"/><circle cx="487.12" cy="754.36" r="1.6" fill="#fff"/><circle cx="490.88" cy="754.36" r="1.6" fill="#fff"/><circle cx="481.5" cy="757.62" r="1.6" fill="#fff"/><circle cx="485.25" cy="757.62" r="1.6" fill="#fff"/><circle cx="489" cy="757.62" r="1.6" fill="#fff"/><ellipse cx="529.9" cy="751.1" rx="11.6" ry="10" fill="#1a1a1a"/><circle cx="526.15" cy="744.58" r="1.6" fill="#fff"/><circle cx="529.9" cy="744.58" r="1.6" fill="#fff"/><circle cx="533.65" cy="744.58" r="1.6" fill="#fff"/><circle cx="524.27" cy="747.84" r="1.6" fill="#fff"/><circle cx="528.02" cy="747.84" r="1.6" fill="#fff"/><circle cx="531.77" cy="747.84" r="1.6" fill="#fff"/><circle cx="535.52" cy="747.84" r="1.6" fill="#fff"/><circle cx="522.4" cy="751.1" r="1.6" fill="#fff"/><circle cx="526.15" cy="751.1" r="1.6" fill="#fff"/><circle cx="529.9" cy="751.1" r="1.6" fill="#fff"/><circle cx="533.65" cy="751.1" r="1.6" fill="#fff"/><circle cx="537.4" cy="751.1" r="1.6" fill="#fff"/><circle cx="524.27" cy="754.36" r="1.6" fill="#fff"/><circle cx="528.02" cy="754.36" r="1.6" fill="#fff"/><circle cx="531.77" cy="754.36" r="1.6" fill="#fff"/><circle cx="535.52" cy="754.36" r="1.6" fill="#fff"/><circle cx="526.15" cy="757.62" r="1.6" fill="#fff"/><circle cx="529.9" cy="757.62" r="1.6" fill="#fff"/><circle cx="533.65" cy="757.62" r="1.6" fill="#fff"/><ellipse cx="486.6" cy="779.3" rx="11.6" ry="10" fill="#1a1a1a"/><circle cx="482.85" cy="772.77" r="1.6" fill="#fff"/><circle cx="486.6" cy="772.77" r="1.6" fill="#fff"/><circle cx="490.35" cy="772.77" r="1.6" fill="#fff"/><circle cx="480.98" cy="776.04" r="1.6" fill="#fff"/><circle cx="484.73" cy="776.04" r="1.6" fill="#fff"/><circle cx="488.48" cy="776.04" r="1.6" fill="#fff"/><circle cx="492.23" cy="776.04" r="1.6" fill="#fff"/><circle cx="479.1" cy="779.3" r="1.6" fill="#fff"/><circle cx="482.85" cy="779.3" r="1.6" fill="#fff"/><circle cx="486.6" cy="779.3" r="1.6" fill="#fff"/><circle cx="490.35" cy="779.3" r="1.6" fill="#fff"/><circle cx="494.1" cy="779.3" r="1.6" fill="#fff"/><circle cx="480.98" cy="782.56" r="1.6" fill="#fff"/><circle cx="484.73" cy="782.56" r="1.6" fill="#fff"/><circle cx="488.48" cy="782.56" r="1.6" fill="#fff"/><circle cx="492.23" cy="782.56" r="1.6" fill="#fff"/><circle cx="482.85" cy="785.82" r="1.6" fill="#fff"/><circle cx="486.6" cy="785.82" r="1.6" fill="#fff"/><circle cx="490.35" cy="785.82" r="1.6" fill="#fff"/><ellipse cx="530.6" cy="779.3" rx="11.6" ry="10" fill="#1a1a1a"/><circle cx="526.85" cy="772.77" r="1.6" fill="#fff"/><circle cx="530.6" cy="772.77" r="1.6" fill="#fff"/><circle cx="534.35" cy="772.77" r="1.6" fill="#fff"/><circle cx="524.98" cy="776.04" r="1.6" fill="#fff"/><circle cx="528.73" cy="776.04" r="1.6" fill="#fff"/><circle cx="532.48" cy="776.04" r="1.6" fill="#fff"/><circle cx="536.23" cy="776.04" r="1.6" fill="#fff"/><circle cx="523.1" cy="779.3" r="1.6" fill="#fff"/><circle cx="526.85" cy="779.3" r="1.6" fill="#fff"/><circle cx="530.6" cy="779.3" r="1.6" fill="#fff"/><circle cx="534.35" cy="779.3" r="1.6" fill="#fff"/><circle cx="538.1" cy="779.3" r="1.6" fill="#fff"/><circle cx="524.98" cy="782.56" r="1.6" fill="#fff"/><circle cx="528.73" cy="782.56" r="1.6" fill="#fff"/><circle cx="532.48" cy="782.56" r="1.6" fill="#fff"/><circle cx="536.23" cy="782.56" r="1.6" fill="#fff"/><circle cx="526.85" cy="785.82" r="1.6" fill="#fff"/><circle cx="530.6" cy="785.82" r="1.6" fill="#fff"/><circle cx="534.35" cy="785.82" r="1.6" fill="#fff"/><path d="M530,929.8 C532.5,929.88 537.33,930.47 541,931.5 C544.67,932.53 548.83,933.75 552,936 C555.17,938.25 558.05,941.33 560,945 C561.95,948.67 563.37,953.5 563.7,958 C564.03,962.5 563.28,967.67 562,972 C560.72,976.33 558.83,980.67 556,984 C553.17,987.33 549.33,990.25 545,992 C540.67,993.75 535,994.5 530,994.5 C525,994.5 519.5,993.75 515,992 C510.5,990.25 505.92,987.67 503,984 C500.08,980.33 498.25,974.83 497.5,970 C496.75,965.17 497.42,959.33 498.5,955 C499.58,950.67 501.75,947.17 504,944 C506.25,940.83 509.17,937.83 512,936 C514.83,934.17 518.67,933.83 521,933 C523.33,932.17 524.5,931.53 526,931 C527.5,930.47 527.5,929.72 530,929.8Z" fill="#fff" stroke="#000" stroke-width="1.4"/><path d="M530,934 C532.33,934.08 536.67,934.58 540,935.5 C543.33,936.42 547.08,937.58 550,939.5 C552.92,941.42 555.75,943.92 557.5,947 C559.25,950.08 560.25,954 560.5,958 C560.75,962 560.17,967 559,971 C557.83,975 556.08,978.92 553.5,982 C550.92,985.08 547.42,987.92 543.5,989.5 C539.58,991.08 534.58,991.5 530,991.5 C525.42,991.5 520.08,991.08 516,989.5 C511.92,987.92 508.08,985.25 505.5,982 C502.92,978.75 501.17,974.33 500.5,970 C499.83,965.67 500.5,959.92 501.5,956 C502.5,952.08 504.42,949.25 506.5,946.5 C508.58,943.75 511.42,941.17 514,939.5 C516.58,937.83 520,937.25 522,936.5 C524,935.75 524.67,935.42 526,935 C527.33,934.58 527.67,933.92 530,934Z" fill="#fff" stroke="#000" stroke-width="1.3"/><circle cx="521" cy="956.3" r="4.4" fill="#fff" stroke="#000" stroke-width="1.2"/><g transform="translate(535,970.5) rotate(-33)"><rect x="-15.5" y="-5.6" width="31" height="11.2" rx="5.6" fill="#fff" stroke="#000" stroke-width="1.4"/></g><ellipse cx="537.6" cy="969.2" rx="3.6" ry="2.5" fill="#fff" stroke="#000" stroke-width="1.1" transform="rotate(-20 537.6 969.2)"/><path d="M186,941.8 C188.75,941.58 196,940.47 202.5,940.5 C209,940.53 217.5,941.25 225,942 C232.5,942.75 241.33,943.83 247.5,945 C253.67,946.17 257.42,947.92 262,949 C266.58,950.08 270.33,951.42 275,951.5 C279.67,951.58 285.83,950.58 290,949.5 C294.17,948.42 297.33,946.58 300,945 C302.67,943.42 305,940.83 306,940 L310.5,946 C309.08,947.25 305.75,951.58 302,953.5 C298.25,955.42 292.58,956.67 288,957.5 C283.42,958.33 279.17,958.83 274.5,958.5 C269.83,958.17 264.5,956.58 260,955.5 C255.5,954.42 253.33,953.08 247.5,952 C241.67,950.92 232.5,949.67 225,949 C217.5,948.33 209,948.13 202.5,948 C196,947.87 188.75,948.17 186,948.2 Q181,945 186,941.8Z" fill="#fbf8d8" stroke="#000" stroke-width="1.3"/><circle cx="202.5" cy="944.3" r="2.4" fill="#fff" stroke="#777" stroke-width="0.8"/><circle cx="220" cy="944.8" r="2.4" fill="#fff" stroke="#777" stroke-width="0.8"/><path d="M323.5,896.6 C326.33,896.77 330.08,897.27 333,898.5 C335.92,899.73 338.83,901.92 341,904 C343.17,906.08 345.07,908.33 346,911 C346.93,913.67 346.9,916.5 346.6,920 C346.3,923.5 345.63,928.5 344.2,932 C342.77,935.5 340.85,938.28 338,941 C335.15,943.72 330.43,947.13 327.1,948.3 C323.77,949.47 320.98,948.36 318,948 C315.02,947.64 311.92,947.73 309.25,946.15 C306.58,944.57 303.9,941.59 302,938.5 C300.1,935.41 298.38,931.02 297.85,927.6 C297.32,924.18 298.09,920.97 298.8,918 C299.51,915.03 300.36,912.71 302.1,909.8 C303.84,906.89 306.93,902.6 309.25,900.55 C311.57,898.5 313.62,898.16 316,897.5 C318.38,896.84 320.67,896.43 323.5,896.6Z" fill="#f6ec7c" stroke="#000" stroke-width="1.6"/><path d="M322.79,902.69 C323.14,902.57 324.21,901.86 324.93,901.98 C325.64,902.09 326.29,902.98 327.06,903.4 C327.83,903.82 329.14,904.29 329.56,904.47 M306.4,906.25 C306.7,906.73 307.53,908.36 308.18,909.1 C308.83,909.84 309.55,910.37 310.32,910.67 C311.09,910.96 312.4,910.85 312.81,910.88 M337.75,909.46 C338.17,909.52 339.47,909.52 340.24,909.81 C341.02,910.11 341.73,910.7 342.38,911.24 C343.03,911.77 343.87,912.72 344.16,913.02 M321.36,915.16 C321.72,915.22 322.79,915.69 323.5,915.51 C324.21,915.33 324.69,914.15 325.64,914.09 C326.59,914.03 328.61,914.98 329.2,915.16 M299.99,919.79 C300.34,919.55 301.41,918.9 302.13,918.36 C302.84,917.83 303.67,917.06 304.26,916.58 C304.86,916.11 305.45,915.69 305.69,915.51 M310.32,915.51 C310.56,915.81 311.27,916.7 311.74,917.29 C312.22,917.89 312.75,918.54 313.17,919.08 C313.58,919.61 314.06,920.26 314.24,920.5 M320.29,921.57 C320.65,921.75 321.72,922.34 322.43,922.64 C323.14,922.93 323.86,923.05 324.57,923.35 C325.28,923.65 326.35,924.24 326.71,924.42 M334.19,921.21 C334.48,921.15 335.32,921.09 335.97,920.86 C336.62,920.62 337.45,920.03 338.11,919.79 C338.76,919.55 339.59,919.49 339.89,919.43 M341.31,921.93 C341.49,921.69 342.03,920.92 342.38,920.5 C342.74,920.08 343.09,919.79 343.45,919.43 C343.81,919.08 344.34,918.54 344.52,918.36 M304.26,929.41 C304.44,929.76 305.27,930.77 305.33,931.54 C305.39,932.32 304.68,933.21 304.62,934.04 C304.56,934.87 304.92,936.12 304.98,936.53 M311.39,929.76 C311.8,930.06 312.99,931.25 313.88,931.54 C314.77,931.84 315.9,931.25 316.73,931.54 C317.56,931.84 318.1,932.73 318.87,933.33 C319.64,933.92 320.95,934.81 321.36,935.11 M330.27,931.54 C330.68,931.66 331.87,932.08 332.76,932.26 C333.65,932.43 334.72,932.14 335.61,932.61 C336.5,933.09 337.69,934.69 338.11,935.11 M325.28,937.6 C325.64,937.84 326.71,938.67 327.42,939.03 C328.13,939.38 328.84,939.44 329.56,939.74 C330.27,940.03 331.34,940.63 331.69,940.81 M312.46,945.08 C312.69,944.73 313.23,943.48 313.88,942.94 C314.53,942.41 315.6,942.35 316.38,941.88 C317.15,941.4 318.16,940.39 318.51,940.09 " fill="none" stroke="#1a1a1a" stroke-width="1.1" stroke-linecap="round"/><g transform="translate(149,655) rotate(12)"><path d="M36.03,-73.89 L38.48,-71.43 L40.86,-68.9 L43.16,-66.29 L45.38,-63.62 L47.52,-60.89 L49.57,-58.09 L51.53,-55.24 L53.39,-52.32 L55.15,-49.33 L56.81,-46.29 L58.37,-43.17 L59.82,-40 L61.15,-36.76 L62.38,-33.46 L63.48,-30.11 L64.47,-26.7 L65.34,-23.25 L66.09,-19.75 L66.72,-16.22 L67.22,-12.66 L67.6,-9.07 L67.86,-5.47 L67.98,-1.86 L67.99,1.76 L67.86,5.37 L67.61,8.97 L67.24,12.56 L66.74,16.12 L66.11,19.66 L65.37,23.15 L64.5,26.61 L63.51,30.01 L62.41,33.36 L61.19,36.65 L59.85,39.87 L58.41,43.01 L56.86,46.08 L55.2,49.06 L53.44,51.95 L51.58,54.74 L49.62,57.43 L47.58,60.02 L45.44,62.49 L43.22,64.85 L40.92,67.09 L38.55,69.2 L36.1,71.18 L33.59,73.04 L31.01,74.76 L28.38,76.34 L25.69,77.77 L22.96,79.07 L20.18,80.21 L17.37,81.21 L14.52,82.06 L11.65,82.76 L8.76,83.3 L5.85,83.69 L2.93,83.92 L0,84 L-2.71,83.92 L-5.42,83.69 L-8.11,83.3 L-10.8,82.76 L-13.46,82.06 L-16.09,81.21 L-18.7,80.21 L-21.27,79.07 L-23.8,77.77 L-26.29,76.34 L-28.73,74.76 L-31.12,73.04 L-33.45,71.18 L-35.71,69.2 L-37.91,67.09 L-40.04,64.85 L-42.1,62.49 L-44.08,60.02 L-45.98,57.43 L-47.79,54.74 L-49.51,51.95 L-51.14,49.06 L-52.68,46.08 L-54.11,43.01 L-55.45,39.87 L-56.69,36.65 L-57.82,33.36 L-58.84,30.01 L-59.76,26.61 L-60.56,23.15 L-61.25,19.66 L-61.83,16.12 L-62.29,12.56 L-62.64,8.97 L-62.87,5.37 L-62.99,1.76 L-62.98,-1.86 L-62.87,-5.47 L-62.63,-9.07 L-62.28,-12.66 L-61.81,-16.22 L-61.23,-19.75 L-60.54,-23.25 L-59.73,-26.7 L-58.82,-30.11 L-57.79,-33.46 L-56.66,-36.76 L-55.42,-40 L-54.08,-43.17 L-52.64,-46.29 L-51.1,-49.33 L-49.46,-52.32 L-47.74,-55.24 L-45.93,-58.09 L-44.03,-60.89 L-42.05,-63.62 L-39.99,-66.29 L-37.86,-68.9 L-35.65,-71.43 L-33.38,-73.89 L-31.8,-74.48 L-30.12,-74.64 L-28.45,-74.37 L-26.91,-73.67 L-25.6,-72.59 L-24.62,-71.22 L-24.03,-69.63 L-23.86,-67.95 L-24.14,-66.28 L-24.84,-64.74 L-25.91,-63.43 L-27.29,-62.45 L-29.15,-60.37 L-30.95,-58.23 L-32.69,-56.03 L-34.37,-53.78 L-35.99,-51.47 L-37.54,-49.1 L-39.02,-46.69 L-40.43,-44.22 L-41.77,-41.7 L-43.03,-39.12 L-44.21,-36.49 L-45.3,-33.81 L-46.31,-31.07 L-47.24,-28.28 L-48.08,-25.45 L-48.83,-22.57 L-49.49,-19.65 L-50.06,-16.7 L-50.53,-13.71 L-50.91,-10.7 L-51.2,-7.67 L-51.39,-4.62 L-51.49,-1.57 L-51.49,1.49 L-51.39,4.54 L-51.21,7.59 L-50.92,10.62 L-50.54,13.63 L-50.07,16.61 L-49.5,19.57 L-48.85,22.49 L-48.1,25.37 L-47.26,28.2 L-46.34,30.98 L-45.33,33.7 L-44.24,36.36 L-43.06,38.95 L-41.8,41.46 L-40.47,43.91 L-39.06,46.27 L-37.58,48.54 L-36.03,50.73 L-34.42,52.82 L-32.73,54.81 L-30.99,56.7 L-29.19,58.49 L-27.34,60.17 L-25.44,61.73 L-23.49,63.19 L-21.49,64.52 L-19.46,65.74 L-17.39,66.83 L-15.29,67.8 L-13.16,68.64 L-11,69.36 L-8.82,69.95 L-6.63,70.41 L-4.43,70.74 L-2.22,70.93 L0,71 L2.28,70.93 L4.56,70.74 L6.83,70.41 L9.08,69.95 L11.32,69.36 L13.54,68.64 L15.73,67.8 L17.9,66.83 L20.03,65.74 L22.12,64.52 L24.17,63.19 L26.18,61.73 L28.14,60.17 L30.04,58.49 L31.9,56.7 L33.69,54.81 L35.42,52.82 L37.08,50.73 L38.68,48.54 L40.2,46.27 L41.65,43.91 L43.02,41.46 L44.31,38.95 L45.52,36.36 L46.65,33.7 L47.69,30.98 L48.64,28.2 L49.5,25.37 L50.27,22.49 L50.95,19.57 L51.53,16.61 L52.01,13.63 L52.4,10.62 L52.7,7.59 L52.89,4.54 L52.99,1.49 L52.99,-1.57 L52.89,-4.62 L52.69,-7.67 L52.39,-10.7 L52,-13.71 L51.51,-16.7 L50.93,-19.65 L50.25,-22.57 L49.48,-25.45 L48.62,-28.28 L47.66,-31.07 L46.62,-33.81 L45.49,-36.49 L44.28,-39.12 L42.99,-41.7 L41.61,-44.22 L40.16,-46.69 L38.64,-49.1 L37.04,-51.47 L35.37,-53.78 L33.64,-56.03 L31.85,-58.23 L29.99,-60.37 L28.09,-62.45 L26.74,-63.67 L25.76,-65.2 L25.21,-66.94 L25.12,-68.75 L25.51,-70.53 L26.34,-72.14 L27.57,-73.49 L29.1,-74.47 L30.83,-75.02 L32.64,-75.11 L34.42,-74.72Z" fill="#000" stroke="#000" stroke-width="3.6" stroke-linejoin="round"/></g><path d="M86.1,649.1 C85.8,651.75 84.55,661.18 84.3,665 C84.05,668.82 84.23,667.83 84.6,672 C84.97,676.17 85.68,684.5 86.5,690 C87.32,695.5 88.67,699.67 89.5,705 C90.33,710.33 91.17,713.33 91.5,722 C91.83,730.67 91.5,751.17 91.5,757 L140.9,765.1 C141.25,763.92 141.65,760.68 143,758 C144.35,755.32 146.13,752.28 149,749 C151.87,745.72 155.47,742.23 160.2,738.3 C164.93,734.37 172.38,728.98 177.4,725.4 C182.42,721.82 187.32,719.1 190.3,716.8 C193.28,714.5 194.47,712.47 195.3,711.6 L149,655Z" fill="#000" stroke="#000" stroke-width="3.6" stroke-linejoin="round"/><g transform="translate(149,655) rotate(12)"><path d="M36.03,-73.89 L38.48,-71.43 L40.86,-68.9 L43.16,-66.29 L45.38,-63.62 L47.52,-60.89 L49.57,-58.09 L51.53,-55.24 L53.39,-52.32 L55.15,-49.33 L56.81,-46.29 L58.37,-43.17 L59.82,-40 L61.15,-36.76 L62.38,-33.46 L63.48,-30.11 L64.47,-26.7 L65.34,-23.25 L66.09,-19.75 L66.72,-16.22 L67.22,-12.66 L67.6,-9.07 L67.86,-5.47 L67.98,-1.86 L67.99,1.76 L67.86,5.37 L67.61,8.97 L67.24,12.56 L66.74,16.12 L66.11,19.66 L65.37,23.15 L64.5,26.61 L63.51,30.01 L62.41,33.36 L61.19,36.65 L59.85,39.87 L58.41,43.01 L56.86,46.08 L55.2,49.06 L53.44,51.95 L51.58,54.74 L49.62,57.43 L47.58,60.02 L45.44,62.49 L43.22,64.85 L40.92,67.09 L38.55,69.2 L36.1,71.18 L33.59,73.04 L31.01,74.76 L28.38,76.34 L25.69,77.77 L22.96,79.07 L20.18,80.21 L17.37,81.21 L14.52,82.06 L11.65,82.76 L8.76,83.3 L5.85,83.69 L2.93,83.92 L0,84 L-2.71,83.92 L-5.42,83.69 L-8.11,83.3 L-10.8,82.76 L-13.46,82.06 L-16.09,81.21 L-18.7,80.21 L-21.27,79.07 L-23.8,77.77 L-26.29,76.34 L-28.73,74.76 L-31.12,73.04 L-33.45,71.18 L-35.71,69.2 L-37.91,67.09 L-40.04,64.85 L-42.1,62.49 L-44.08,60.02 L-45.98,57.43 L-47.79,54.74 L-49.51,51.95 L-51.14,49.06 L-52.68,46.08 L-54.11,43.01 L-55.45,39.87 L-56.69,36.65 L-57.82,33.36 L-58.84,30.01 L-59.76,26.61 L-60.56,23.15 L-61.25,19.66 L-61.83,16.12 L-62.29,12.56 L-62.64,8.97 L-62.87,5.37 L-62.99,1.76 L-62.98,-1.86 L-62.87,-5.47 L-62.63,-9.07 L-62.28,-12.66 L-61.81,-16.22 L-61.23,-19.75 L-60.54,-23.25 L-59.73,-26.7 L-58.82,-30.11 L-57.79,-33.46 L-56.66,-36.76 L-55.42,-40 L-54.08,-43.17 L-52.64,-46.29 L-51.1,-49.33 L-49.46,-52.32 L-47.74,-55.24 L-45.93,-58.09 L-44.03,-60.89 L-42.05,-63.62 L-39.99,-66.29 L-37.86,-68.9 L-35.65,-71.43 L-33.38,-73.89 L-31.8,-74.48 L-30.12,-74.64 L-28.45,-74.37 L-26.91,-73.67 L-25.6,-72.59 L-24.62,-71.22 L-24.03,-69.63 L-23.86,-67.95 L-24.14,-66.28 L-24.84,-64.74 L-25.91,-63.43 L-27.29,-62.45 L-29.15,-60.37 L-30.95,-58.23 L-32.69,-56.03 L-34.37,-53.78 L-35.99,-51.47 L-37.54,-49.1 L-39.02,-46.69 L-40.43,-44.22 L-41.77,-41.7 L-43.03,-39.12 L-44.21,-36.49 L-45.3,-33.81 L-46.31,-31.07 L-47.24,-28.28 L-48.08,-25.45 L-48.83,-22.57 L-49.49,-19.65 L-50.06,-16.7 L-50.53,-13.71 L-50.91,-10.7 L-51.2,-7.67 L-51.39,-4.62 L-51.49,-1.57 L-51.49,1.49 L-51.39,4.54 L-51.21,7.59 L-50.92,10.62 L-50.54,13.63 L-50.07,16.61 L-49.5,19.57 L-48.85,22.49 L-48.1,25.37 L-47.26,28.2 L-46.34,30.98 L-45.33,33.7 L-44.24,36.36 L-43.06,38.95 L-41.8,41.46 L-40.47,43.91 L-39.06,46.27 L-37.58,48.54 L-36.03,50.73 L-34.42,52.82 L-32.73,54.81 L-30.99,56.7 L-29.19,58.49 L-27.34,60.17 L-25.44,61.73 L-23.49,63.19 L-21.49,64.52 L-19.46,65.74 L-17.39,66.83 L-15.29,67.8 L-13.16,68.64 L-11,69.36 L-8.82,69.95 L-6.63,70.41 L-4.43,70.74 L-2.22,70.93 L0,71 L2.28,70.93 L4.56,70.74 L6.83,70.41 L9.08,69.95 L11.32,69.36 L13.54,68.64 L15.73,67.8 L17.9,66.83 L20.03,65.74 L22.12,64.52 L24.17,63.19 L26.18,61.73 L28.14,60.17 L30.04,58.49 L31.9,56.7 L33.69,54.81 L35.42,52.82 L37.08,50.73 L38.68,48.54 L40.2,46.27 L41.65,43.91 L43.02,41.46 L44.31,38.95 L45.52,36.36 L46.65,33.7 L47.69,30.98 L48.64,28.2 L49.5,25.37 L50.27,22.49 L50.95,19.57 L51.53,16.61 L52.01,13.63 L52.4,10.62 L52.7,7.59 L52.89,4.54 L52.99,1.49 L52.99,-1.57 L52.89,-4.62 L52.69,-7.67 L52.39,-10.7 L52,-13.71 L51.51,-16.7 L50.93,-19.65 L50.25,-22.57 L49.48,-25.45 L48.62,-28.28 L47.66,-31.07 L46.62,-33.81 L45.49,-36.49 L44.28,-39.12 L42.99,-41.7 L41.61,-44.22 L40.16,-46.69 L38.64,-49.1 L37.04,-51.47 L35.37,-53.78 L33.64,-56.03 L31.85,-58.23 L29.99,-60.37 L28.09,-62.45 L26.74,-63.67 L25.76,-65.2 L25.21,-66.94 L25.12,-68.75 L25.51,-70.53 L26.34,-72.14 L27.57,-73.49 L29.1,-74.47 L30.83,-75.02 L32.64,-75.11 L34.42,-74.72Z" fill="#cda4d3"/></g><path d="M86.1,649.1 C85.8,651.75 84.55,661.18 84.3,665 C84.05,668.82 84.23,667.83 84.6,672 C84.97,676.17 85.68,684.5 86.5,690 C87.32,695.5 88.67,699.67 89.5,705 C90.33,710.33 91.17,713.33 91.5,722 C91.83,730.67 91.5,751.17 91.5,757 L140.9,765.1 C141.25,763.92 141.65,760.68 143,758 C144.35,755.32 146.13,752.28 149,749 C151.87,745.72 155.47,742.23 160.2,738.3 C164.93,734.37 172.38,728.98 177.4,725.4 C182.42,721.82 187.32,719.1 190.3,716.8 C193.28,714.5 194.47,712.47 195.3,711.6 L149,655Z" fill="#cda4d3"/><path d="M88,757.1 L91.5,757.1 L140.9,765.7 L146,765.7 L146,772 L88,772Z" fill="#f5f5f5"/><g transform="translate(149,655) rotate(12)"><path d="M28.87,-62.03 L30.81,-59.78 L32.7,-57.46 L34.53,-55.1 L36.28,-52.69 L37.96,-50.23 L39.57,-47.72 L41.1,-45.17 L42.55,-42.56 L43.91,-39.9 L45.19,-37.19 L46.38,-34.42 L47.47,-31.6 L48.47,-28.72 L49.38,-25.8 L50.19,-22.83 L50.9,-19.81 L51.5,-16.76 L52.01,-13.67 L52.41,-10.56 L52.71,-7.42 L52.9,-4.27 L52.99,-1.12 L52.98,2.04 L52.86,5.2 L52.63,8.35 L52.3,11.47 L51.87,14.58 L51.33,17.66 L50.7,20.7 L49.96,23.7 L49.12,26.65 L48.19,29.56 L47.16,32.4 L46.04,35.18 L44.82,37.89 L43.52,40.52 L42.13,43.07 L40.66,45.54 L39.11,47.92 L37.48,50.2 L35.77,52.39 L34,54.47 L32.15,56.44 L30.25,58.3 L28.28,60.05 L26.26,61.67 L24.19,63.18 L22.06,64.56 L19.9,65.81 L17.69,66.93 L15.45,67.92 L13.18,68.77 L10.88,69.49 L8.57,70.07 L6.23,70.51 L3.88,70.81 L1.53,70.97 L-0.81,70.99 L-3.1,70.87 L-5.38,70.61 L-7.66,70.21 L-9.91,69.67 L-12.15,68.99 L-14.37,68.18 L-16.55,67.23 L-18.71,66.15 L-20.82,64.94 L-22.9,63.6 L-24.93,62.13 L-26.91,60.54 L-28.84,58.83 L-30.71,57 L-32.51,55.06 L-34.26,53.01 L-35.94,50.86 L-37.54,48.6 L-39.07,46.25 L-40.53,43.81 L-41.9,41.28 L-43.19,38.67 L-44.4,35.98 L-45.51,33.22 L-46.54,30.4 L-47.48,27.51 L-48.32,24.57 L-49.06,21.59 L-49.71,18.56 L-50.26,15.49 L-50.71,12.39 L-51.06,9.27 L-51.31,6.13 L-51.45,2.97 L-51.5,-0.19 L-51.44,-3.34 L-51.28,-6.5 L-51.02,-9.64 L-50.66,-12.76 L-50.2,-15.85 L-49.64,-18.92 L-48.98,-21.94 L-48.22,-24.93 L-47.37,-27.87 L-46.42,-30.76 L-45.39,-33.6 L-44.26,-36.38 L-43.04,-39.11 L-41.74,-41.78 L-40.36,-44.41 L-38.9,-46.98 L-37.36,-49.5 L-35.74,-51.97 L-34.06,-54.4 L-32.31,-56.77 L-30.49,-59.1 L-28.61,-61.38 L-26.68,-63.59 L-24.69,-65.72 L-22.66,-67.77 L-20.58,-69.72 L-18.46,-71.55 L-17.16,-71.8 L-15.85,-71.72 L-14.6,-71.29 L-13.5,-70.55 L-12.64,-69.56 L-12.06,-68.38 L-11.8,-67.08 L-11.89,-65.77 L-12.32,-64.52 L-13.05,-63.42 L-14.05,-62.56 L-15.23,-61.98 L-16.98,-60.39 L-18.7,-58.7 L-20.38,-56.93 L-22.02,-55.08 L-23.61,-53.16 L-25.16,-51.19 L-26.66,-49.18 L-28.11,-47.12 L-29.5,-45.02 L-30.83,-42.87 L-32.1,-40.69 L-33.31,-38.46 L-34.45,-36.19 L-35.52,-33.88 L-36.52,-31.51 L-37.46,-29.1 L-38.31,-26.64 L-39.09,-24.14 L-39.8,-21.59 L-40.42,-19.01 L-40.96,-16.38 L-41.43,-13.73 L-41.81,-11.05 L-42.11,-8.35 L-42.32,-5.63 L-42.45,-2.9 L-42.5,-0.16 L-42.46,2.58 L-42.34,5.31 L-42.14,8.03 L-41.85,10.73 L-41.48,13.42 L-41.02,16.07 L-40.49,18.7 L-39.87,21.29 L-39.18,23.83 L-38.41,26.33 L-37.56,28.78 L-36.64,31.17 L-35.64,33.5 L-34.58,35.76 L-33.44,37.95 L-32.24,40.06 L-30.98,42.1 L-29.66,44.05 L-28.27,45.92 L-26.83,47.69 L-25.34,49.37 L-23.8,50.96 L-22.21,52.44 L-20.57,53.82 L-18.9,55.09 L-17.18,56.25 L-15.44,57.3 L-13.66,58.24 L-11.86,59.06 L-10.03,59.76 L-8.18,60.35 L-6.32,60.82 L-4.44,61.16 L-2.56,61.39 L-0.67,61.49 L1.22,61.47 L3.11,61.33 L5,61.07 L6.87,60.69 L8.73,60.19 L10.57,59.57 L12.39,58.83 L14.19,57.97 L15.96,57 L17.69,55.92 L19.39,54.72 L21.06,53.42 L22.68,52.01 L24.26,50.5 L25.78,48.89 L27.26,47.18 L28.69,45.38 L30.05,43.49 L31.36,41.51 L32.6,39.45 L33.79,37.31 L34.9,35.1 L35.94,32.82 L36.92,30.47 L37.82,28.06 L38.64,25.6 L39.39,23.09 L40.06,20.53 L40.65,17.93 L41.16,15.29 L41.59,12.63 L41.94,9.94 L42.21,7.23 L42.39,4.5 L42.48,1.77 L42.49,-0.97 L42.42,-3.7 L42.27,-6.43 L42.03,-9.14 L41.7,-11.84 L41.3,-14.51 L40.81,-17.16 L40.24,-19.77 L39.6,-22.35 L38.87,-24.88 L38.07,-27.37 L37.19,-29.81 L36.24,-32.21 L35.21,-34.56 L34.12,-36.87 L32.96,-39.12 L31.73,-41.34 L30.44,-43.51 L29.09,-45.64 L27.69,-47.73 L26.22,-49.78 L24.71,-51.78 L23.15,-53.73 L22.17,-54.61 L21.46,-55.72 L21.05,-56.97 L20.98,-58.28 L21.26,-59.57 L21.86,-60.74 L22.74,-61.72 L23.84,-62.43 L25.09,-62.84 L26.41,-62.91 L27.69,-62.63Z" fill="#f3b0b0" stroke="#000" stroke-width="1.7" stroke-linejoin="round"/><ellipse cx="0" cy="0" rx="42.5" ry="61.5" fill="#fff" stroke="#000" stroke-width="2.6"/></g><path d="M146,597.5 C143.15,598.75 141.82,600.58 140.9,603 C139.98,605.42 139.65,609.5 140.5,612 C141.35,614.5 143.92,617.17 146,618 C148.08,618.83 150.75,617.92 153,617 C155.25,616.08 157.83,613 159.5,612.5 C161.17,612 161.75,612.83 163,614 C164.25,615.17 165.17,618.25 167,619.5 C168.83,620.75 171.67,621.58 174,621.5 C176.33,621.42 179.33,620.58 181,619 C182.67,617.42 184.08,614.5 184,612 C183.92,609.5 182.83,606.33 180.5,604 C178.17,601.67 173.75,599.42 170,598 C166.25,596.58 162,595.58 158,595.5 C154,595.42 148.85,596.25 146,597.5Z" fill="#fff" stroke="#000" stroke-width="1.1"/>
<path d="M607.3,350 C609.5,360 609.8,375 609.5,386.5 L625.8,386.5 C625.4,375 625.8,360 627.6,350Z" fill="#b0d40c" stroke="#000" stroke-width="1.2"/><rect x="609.3" y="386.6" width="16" height="1.6" fill="#f5f5f5"/><path d="M515.3,216 C515.22,212.75 515.88,210.17 517.5,207.5 C519.12,204.83 522.08,202 525,200 C527.92,198 531.33,196.75 535,195.5 C538.67,194.25 543.25,193.25 547,192.5 C550.75,191.75 553.75,191 557.5,191 C561.25,191 566.5,191.58 569.5,192.5 C572.5,193.42 573.92,196.67 575.5,196.5 C577.08,196.33 576.75,193.92 579,191.5 C581.25,189.08 585.5,184.25 589,182 C592.5,179.75 596.5,178.88 600,178 C603.5,177.12 605.83,176.83 610,176.75 C614.17,176.67 620.67,176.79 625,177.5 C629.33,178.21 632.67,179.33 636,181 C639.33,182.67 642.03,184.58 645,187.5 C647.97,190.42 651.42,197.55 653.8,198.5 C656.18,199.45 656.52,194.55 659.3,193.2 C662.08,191.85 666.72,190.6 670.5,190.4 C674.28,190.2 678.3,191.07 682,192 C685.7,192.93 689.2,194.5 692.7,196 C696.2,197.5 699.9,199.08 703,201 C706.1,202.92 709,204.93 711.3,207.5 C713.6,210.07 716.52,213.15 716.8,216.4 C717.08,219.65 715.05,223.57 713,227 C710.95,230.43 707.27,234.13 704.5,237 C701.73,239.87 698.9,241.7 696.4,244.2 C693.9,246.7 691.35,248.92 689.5,252 C687.65,255.08 686.47,258.7 685.3,262.7 C684.13,266.7 683.22,271.12 682.5,276 C681.78,280.88 681.77,286.5 681,292 C680.23,297.5 679.32,303 677.9,309 C676.48,315 674.65,322.83 672.5,328 C670.35,333.17 667.82,336.83 665,340 C662.18,343.17 660.27,344.9 655.6,347 C650.93,349.1 643.43,351.27 637,352.6 C630.57,353.93 622.08,354.81 617,355 C611.92,355.19 610.5,354.58 606.5,353.75 C602.5,352.92 598.25,352.12 593,350 C587.75,347.88 580.17,345.17 575,341 C569.83,336.83 565.67,331 562,325 C558.33,319 555.17,311.67 553,305 C550.83,298.33 550.08,292.17 549,285 C547.92,277.83 547.33,266.67 546.5,262 C545.67,257.33 545.92,259.67 544,257 C542.08,254.33 538.17,249.42 535,246 C531.83,242.58 527.83,239.67 525,236.5 C522.17,233.33 519.62,230.42 518,227 C516.38,223.58 515.38,219.25 515.3,216Z" fill="#f3ab38" stroke="#000" stroke-width="2.2" stroke-linejoin="round"/><path d="M575.5,196.5 C576.33,198.25 578.83,202.75 580.5,207 C582.17,211.25 583.92,216.5 585.5,222 C587.08,227.5 588.33,234.17 590,240 C591.67,245.83 593.58,252 595.5,257 C597.42,262 599.67,266 601.5,270 C603.33,274 605.67,279.17 606.5,281" fill="none" stroke="#000" stroke-width="2"/><path d="M653.8,198.5 C652.67,200.42 648.97,205.75 647,210 C645.03,214.25 643.75,219 642,224 C640.25,229 638.08,235 636.5,240 C634.92,245 633.83,249.67 632.5,254 C631.17,258.33 629.75,262.33 628.5,266 C627.25,269.67 625.58,274.33 625,276" fill="none" stroke="#000" stroke-width="2"/><path d="M564.6,226 C564.67,229.17 564.88,238.5 565,245 C565.12,251.5 565.05,257.5 565.3,265 C565.55,272.5 565.72,282.17 566.5,290 C567.28,297.83 568.25,305.33 570,312 C571.75,318.67 574,324.83 577,330 C580,335.17 584.17,339.58 588,343 C591.83,346.42 596.5,348.58 600,350.5 C603.5,352.42 607.5,353.83 609,354.5" fill="none" stroke="#000" stroke-width="5.4" stroke-linecap="round"/><path d="M564.6,226 C564.67,229.17 564.88,238.5 565,245 C565.12,251.5 565.05,257.5 565.3,265 C565.55,272.5 565.72,282.17 566.5,290 C567.28,297.83 568.25,305.33 570,312 C571.75,318.67 574,324.83 577,330 C580,335.17 584.17,339.58 588,343 C591.83,346.42 596.5,348.58 600,350.5 C603.5,352.42 607.5,353.83 609,354.5" fill="none" stroke="#f8f28c" stroke-width="3.3" stroke-linecap="round"/><path d="M613.2,214.3 C613.23,216.92 613.5,225.05 613.4,230 C613.3,234.95 613.25,239.33 612.6,244 C611.95,248.67 610.67,253.03 609.5,258 C608.33,262.97 606.93,268.47 605.6,273.8 C604.27,279.13 602.55,284.8 601.5,290 C600.45,295.2 599.63,300 599.3,305 C598.97,310 599.05,315 599.5,320 C599.95,325 600.75,330.5 602,335 C603.25,339.5 605.17,343.83 607,347 C608.83,350.17 611.08,352.57 613,354 C614.92,355.43 616.58,355.68 618.5,355.6 C620.42,355.52 622.67,355.1 624.5,353.5 C626.33,351.9 628.08,349.25 629.5,346 C630.92,342.75 632.12,338.67 633,334 C633.88,329.33 634.47,323.67 634.8,318 C635.13,312.33 635.3,305.67 635,300 C634.7,294.33 634.08,289.17 633,284 C631.92,278.83 630.17,273.67 628.5,269 C626.83,264.33 624.42,260.17 623,256 C621.58,251.83 620.7,248.33 620,244 C619.3,239.67 619.02,234.95 618.8,230 C618.58,225.05 618.72,216.92 618.7,214.3" fill="#cda4d3" stroke="#000" stroke-width="1.8"/><rect x="608.3" y="209.3" width="15.2" height="5.4" rx="2.5" fill="#cda4d3" stroke="#000" stroke-width="1.3"/><clipPath id="ovc"><path d="M613.2,214.3 C613.23,216.92 613.5,225.05 613.4,230 C613.3,234.95 613.25,239.33 612.6,244 C611.95,248.67 610.67,253.03 609.5,258 C608.33,262.97 606.93,268.47 605.6,273.8 C604.27,279.13 602.55,284.8 601.5,290 C600.45,295.2 599.63,300 599.3,305 C598.97,310 599.05,315 599.5,320 C599.95,325 600.75,330.5 602,335 C603.25,339.5 605.17,343.83 607,347 C608.83,350.17 611.08,352.57 613,354 C614.92,355.43 616.58,355.68 618.5,355.6 C620.42,355.52 622.67,355.1 624.5,353.5 C626.33,351.9 628.08,349.25 629.5,346 C630.92,342.75 632.12,338.67 633,334 C633.88,329.33 634.47,323.67 634.8,318 C635.13,312.33 635.3,305.67 635,300 C634.7,294.33 634.08,289.17 633,284 C631.92,278.83 630.17,273.67 628.5,269 C626.83,264.33 624.42,260.17 623,256 C621.58,251.83 620.7,248.33 620,244 C619.3,239.67 619.02,234.95 618.8,230 C618.58,225.05 618.72,216.92 618.7,214.3"/></clipPath><path d="M632,279 C630.33,278.08 628.08,279 626,279.5 C623.92,280 621.17,280.75 619.5,282 C617.83,283.25 616.5,285.17 616,287 C615.5,288.83 615.83,291.42 616.5,293 C617.17,294.58 618.58,295.58 620,296.5 C621.42,297.42 624.75,297.5 625,298.5 C625.25,299.5 622.3,301 621.5,302.5 C620.7,304 620.03,305.88 620.2,307.5 C620.37,309.12 621.28,310.98 622.5,312.2 C623.72,313.42 627.58,313.83 627.5,314.8 C627.42,315.77 623.58,316.72 622,318 C620.42,319.28 618.7,320.75 618,322.5 C617.3,324.25 617.3,326.83 617.8,328.5 C618.3,330.17 619.63,331.58 621,332.5 C622.37,333.42 624.33,334 626,334 C627.67,334 629.33,333.17 631,332.5 C632.67,331.83 635,334.58 636,330 C637,325.42 637,312.5 637,305 C637,297.5 636.83,289.33 636,285 C635.17,280.67 633.67,279.92 632,279Z" fill="#f3b0b0" stroke="#000" stroke-width="1" clip-path="url(#ovc)"/><path d="M613.2,214.3 C613.23,216.92 613.5,225.05 613.4,230 C613.3,234.95 613.25,239.33 612.6,244 C611.95,248.67 610.67,253.03 609.5,258 C608.33,262.97 606.93,268.47 605.6,273.8 C604.27,279.13 602.55,284.8 601.5,290 C600.45,295.2 599.63,300 599.3,305 C598.97,310 599.05,315 599.5,320 C599.95,325 600.75,330.5 602,335 C603.25,339.5 605.17,343.83 607,347 C608.83,350.17 611.08,352.57 613,354 C614.92,355.43 616.58,355.68 618.5,355.6 C620.42,355.52 622.67,355.1 624.5,353.5 C626.33,351.9 628.08,349.25 629.5,346 C630.92,342.75 632.12,338.67 633,334 C633.88,329.33 634.47,323.67 634.8,318 C635.13,312.33 635.3,305.67 635,300 C634.7,294.33 634.08,289.17 633,284 C631.92,278.83 630.17,273.67 628.5,269 C626.83,264.33 624.42,260.17 623,256 C621.58,251.83 620.7,248.33 620,244 C619.3,239.67 619.02,234.95 618.8,230 C618.58,225.05 618.72,216.92 618.7,214.3" fill="none" stroke="#000" stroke-width="1.8"/><circle cx="565" cy="219.2" r="11.1" fill="#f3ab38" stroke="#000" stroke-width="4.2"/><ellipse cx="562.3" cy="219.5" rx="3.6" ry="6.3" transform="rotate(12 562.3 219.5)" fill="#f2e80f" stroke="#333" stroke-width="0.8"/><ellipse cx="568.5" cy="218.8" rx="3.6" ry="6.3" transform="rotate(12 568.5 218.8)" fill="#f2e80f" stroke="#333" stroke-width="0.8"/>
<path d="M334.4,188.75 C335.75,187.92 339.07,185.62 342.5,183.75 C345.93,181.88 350.83,179.17 355,177.5 C359.17,175.83 363.33,174.79 367.5,173.75 C371.67,172.71 375.83,171.88 380,171.25 C384.17,170.62 388.33,170.31 392.5,170 C396.67,169.69 400.83,169.44 405,169.4 C409.17,169.36 412.92,169.48 417.5,169.75 C422.08,170.02 427.92,170.44 432.5,171 C437.08,171.56 440.83,172.22 445,173.1 C449.17,173.97 453.33,175 457.5,176.25 C461.67,177.5 465.83,178.93 470,180.6 C474.17,182.27 478.33,184.1 482.5,186.25 C486.67,188.4 492.92,192.29 495,193.5" fill="none" stroke="#000" stroke-width="4.6"/><path d="M507.8,202.6 L498.1,188.3 L490.1,200.6Z" fill="#000"/><path d="M557,230.5 C555.83,232.92 552.17,238.83 550,245 C547.83,251.17 545.58,260 544,267.5 C542.42,275 541.58,279.58 540.5,290 C539.42,300.42 538.33,315 537.5,330 C536.67,345 535.82,363.33 535.5,380 C535.18,396.67 535.47,412.33 535.6,430 C535.73,447.67 536.18,476.67 536.3,486" fill="none" stroke="#000" stroke-width="4.5"/><path d="M536.3,500 L529.1,484 L543.6,484Z" fill="#000"/><path d="M626,329 C627.17,332.5 631,342.33 633,350 C635,357.67 636.75,366.67 638,375 C639.25,383.33 639.83,391.67 640.5,400 C641.17,408.33 641.67,416.17 642,425 C642.33,433.83 642.42,448.33 642.5,453" fill="none" stroke="#000" stroke-width="4.5"/><path d="M642.5,467.5 L635,450.9 L650,450.9Z" fill="#000"/><path d="M536.3,550 V714" stroke="#000" stroke-width="4.2"/><path d="M536.3,729 L529,712.8 L543.8,712.8Z" fill="#000"/><path d="M642.5,549.4 V673" stroke="#000" stroke-width="4.2"/><path d="M642.5,688 L635,672 L650,672Z" fill="#000"/><path d="M536.3,781.4 V910" stroke="#000" stroke-width="4.5"/><path d="M536.2,924.2 L528.9,909 L543.5,909Z" fill="#000"/><path d="M642.5,815 V869" stroke="#000" stroke-width="4.2"/><path d="M642.5,884 L635,868 L650,868Z" fill="#000"/><path d="M197.3,553.6 C198.17,551.75 200.59,546.23 202.5,542.5 C204.41,538.77 206.67,534.79 208.75,531.25 C210.83,527.71 212.71,524.79 215,521.25 C217.29,517.71 219.79,513.75 222.5,510 C225.21,506.25 228.33,502.29 231.25,498.75 C234.17,495.21 236.88,492.08 240,488.75 C243.12,485.42 246.67,481.88 250,478.75 C253.33,475.62 257.17,472.38 260,470 C262.83,467.62 265.83,465.42 267,464.5" fill="none" stroke="#000" stroke-width="4.6"/><path d="M277.5,453.1 L260.6,458.1 L270,468.75Z" fill="#000"/><path d="M135.6,852 V797" stroke="#000" stroke-width="5"/><path d="M135.6,782.5 L128.1,798.75 L143.1,798.75Z" fill="#000"/><path d="M190.5,1009 L202,1021.5 L196.5,1021 L197,1030 L188,1030 L187.5,1023Z" fill="#000"/>
<g stroke="#111" stroke-width="1.3"><line x1="680" y1="216.9" x2="730.7" y2="216.9"/><line x1="616.3" y1="265.9" x2="730.7" y2="265.9"/><line x1="626" y1="306.8" x2="730.7" y2="306.8"/><line x1="510.6" y1="271.25" x2="560" y2="222.5"/><line x1="563.75" y1="255" x2="563.75" y2="362"/><line x1="172" y1="611.5" x2="224.6" y2="611.5"/><line x1="172" y1="644.2" x2="224.6" y2="644.2"/><line x1="186" y1="717.4" x2="224.6" y2="717.4"/><line x1="483.9" y1="548.6" x2="450" y2="582"/><line x1="652" y1="525.75" x2="703.75" y2="576.4"/><line x1="482.5" y1="781.4" x2="450.5" y2="810.5"/><line x1="627.75" y1="754.25" x2="679.5" y2="806"/><line x1="640.1" y1="970" x2="640.1" y2="1006"/><line x1="247.5" y1="918.25" x2="247.5" y2="949.75"/></g>
<g font-family="Liberation Sans, sans-serif" font-weight="bold" fill="#111"><text x="283.1" y="163.6" font-size="13.7" textLength="104.84" lengthAdjust="spacingAndGlyphs">Sporophyte (2n)</text><text x="592.72" y="159.7" font-size="15.2" textLength="50.64" lengthAdjust="spacingAndGlyphs">Flower</text><text x="738.41" y="221.9" font-size="13.7" textLength="40.02" lengthAdjust="spacingAndGlyphs">Petals</text><text x="738.12" y="269.4" font-size="13.7" textLength="38.2" lengthAdjust="spacingAndGlyphs">Ovary</text><text x="738.1" y="311.6" font-size="13.7" textLength="37.94" lengthAdjust="spacingAndGlyphs">Ovule</text><text x="486.75" y="284.75" font-size="13.7" textLength="43.96" lengthAdjust="spacingAndGlyphs">Anther</text><text x="539.21" y="377.3" font-size="13.7" textLength="48.99" lengthAdjust="spacingAndGlyphs">Stamen</text><text x="96" y="512" font-size="13.7" textLength="117.14" lengthAdjust="spacingAndGlyphs">Seed Germination</text><text x="229.48" y="616.5" font-size="13.7" textLength="51.8" lengthAdjust="spacingAndGlyphs">Embryo</text><text x="229.49" y="649.3" font-size="13.7" textLength="76.12" lengthAdjust="spacingAndGlyphs">Endosperm</text><text x="229.5" y="722.8" font-size="13.7" textLength="66.84" lengthAdjust="spacingAndGlyphs">Seed Coat</text><text x="374.6" y="594.6" font-size="13.7" textLength="143.13" lengthAdjust="spacingAndGlyphs">Microsporangium (2n)</text><text x="659.31" y="589.3" font-size="13.7" textLength="140.3" lengthAdjust="spacingAndGlyphs">Megasporangium (2n)</text><text x="560.81" y="641" font-size="13.7" textLength="49.91" lengthAdjust="spacingAndGlyphs">Meiosis</text><text x="403.61" y="824.6" font-size="13.7" textLength="109.28" lengthAdjust="spacingAndGlyphs">Microspores (1n)</text><text x="662.75" y="823.3" font-size="13.7" textLength="108.82" lengthAdjust="spacingAndGlyphs">Megaspores (1n)</text><text x="560.5" y="853.4" font-size="13.7" textLength="47.05" lengthAdjust="spacingAndGlyphs">Mitosis</text><text x="214.55" y="914.2" font-size="13.7" textLength="76.26" lengthAdjust="spacingAndGlyphs">Pollen Tube</text><text x="505.22" y="1016.25" font-size="13.7" textLength="42.13" lengthAdjust="spacingAndGlyphs">Pollen</text><text x="621.09" y="1016.1" font-size="13.7" textLength="79.79" lengthAdjust="spacingAndGlyphs">Embryo Sac</text></g>
<path d="M471.5,1025 L472.5,1022.5 L474.5,1021.8 L474.8,1025Z" fill="#2e8fd6"/><path d="M601,1025.5 A5.2,4 0 0 1 611.4,1025.5Z" fill="#e52e5c"/>
</svg>
</body></html>
